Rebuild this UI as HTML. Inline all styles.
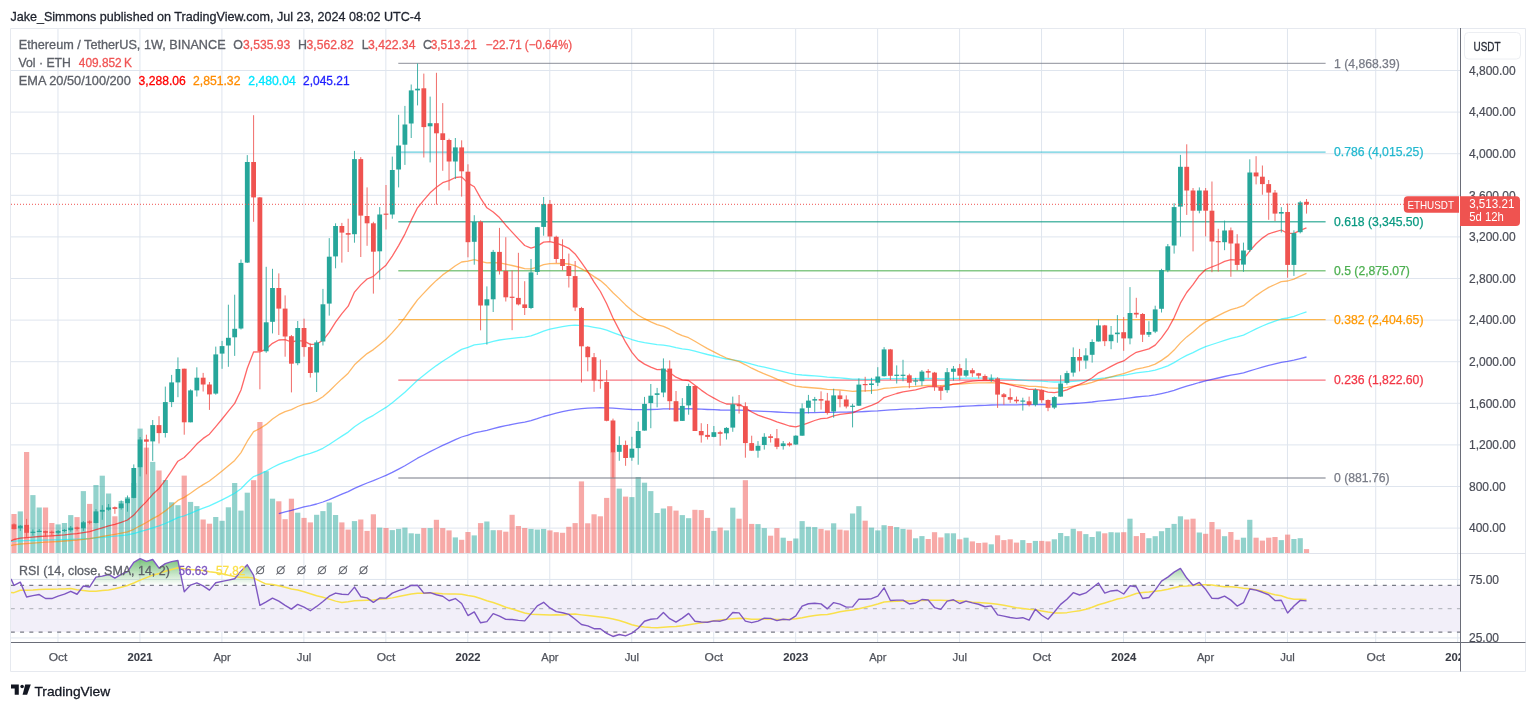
<!DOCTYPE html>
<html><head><meta charset="utf-8"><style>
html,body{margin:0;padding:0;background:#fff;width:1536px;height:709px;overflow:hidden;position:relative;font-family:"Liberation Sans", sans-serif;}
.t{position:absolute;white-space:nowrap;line-height:1;}
</style></head><body>
<svg width="1536" height="709" viewBox="0 0 1536 709" style="position:absolute;left:0;top:0;will-change:transform"><defs><clipPath id="main"><rect x="11" y="29" width="1449" height="524"/></clipPath><clipPath id="rsi"><rect x="11" y="554" width="1449" height="88"/></clipPath><clipPath id="tax"><rect x="11" y="643" width="1449" height="28"/></clipPath><linearGradient id="ob" x1="0" y1="0" x2="0" y2="1" gradientUnits="userSpaceOnUse" x1="0" y1="560" x2="0" y2="585.3"><stop offset="0" stop-color="#4caf50" stop-opacity="0.55"/><stop offset="1" stop-color="#4caf50" stop-opacity="0.0"/></linearGradient></defs><path d="M11 70.50H1460M11 112.10H1460M11 153.70H1460M11 195.30H1460M11 236.90H1460M11 278.50H1460M11 320.10H1460M11 361.70H1460M11 403.30H1460M11 444.90H1460M11 486.50H1460M11 528.10H1460M57.98 29V553M57.98 554V642M139.95 29V553M139.95 554V642M221.91 29V553M221.91 554V642M303.88 29V553M303.88 554V642M385.85 29V553M385.85 554V642M467.81 29V553M467.81 554V642M549.77 29V553M549.77 554V642M631.74 29V553M631.74 554V642M713.71 29V553M713.71 554V642M795.67 29V553M795.67 554V642M877.63 29V553M877.63 554V642M959.60 29V553M959.60 554V642M1041.56 29V553M1041.56 554V642M1123.53 29V553M1123.53 554V642M1205.49 29V553M1205.49 554V642M1287.46 29V553M1287.46 554V642M1375.73 29V553M1375.73 554V642M1457.69 29V553M1457.69 554V642M11 579.45H1460M11 637.95H1460" stroke="#dfe5ee" stroke-width="1" fill="none"/><rect x="11" y="585.3" width="1449" height="46.8" fill="#f2eff9"/><path d="M11 585.3H1460" stroke="#787b86" stroke-width="1.3" stroke-dasharray="4 5.27" stroke-dashoffset="0.2" fill="none"/><path d="M11 608.7H1460" stroke="#b8bac2" stroke-width="1.3" stroke-dasharray="4 5.27" stroke-dashoffset="0.2" fill="none"/><path d="M11 632.1H1460" stroke="#787b86" stroke-width="1.3" stroke-dasharray="4 5.27" stroke-dashoffset="0.2" fill="none"/><g clip-path="url(#main)"><rect x="11.40" y="514.0" width="5.2" height="39.0" fill="#ef5350" fill-opacity="0.5"/><rect x="17.70" y="511.4" width="5.2" height="41.6" fill="#26a69a" fill-opacity="0.5"/><rect x="24.01" y="452.0" width="5.2" height="101.0" fill="#ef5350" fill-opacity="0.5"/><rect x="30.31" y="495.1" width="5.2" height="57.9" fill="#26a69a" fill-opacity="0.5"/><rect x="36.62" y="507.5" width="5.2" height="45.5" fill="#26a69a" fill-opacity="0.5"/><rect x="42.92" y="507.5" width="5.2" height="45.5" fill="#ef5350" fill-opacity="0.5"/><rect x="49.23" y="523.0" width="5.2" height="30.0" fill="#ef5350" fill-opacity="0.5"/><rect x="55.53" y="524.4" width="5.2" height="28.6" fill="#26a69a" fill-opacity="0.5"/><rect x="61.84" y="523.0" width="5.2" height="30.0" fill="#26a69a" fill-opacity="0.5"/><rect x="68.15" y="515.1" width="5.2" height="37.9" fill="#26a69a" fill-opacity="0.5"/><rect x="74.45" y="517.1" width="5.2" height="35.9" fill="#ef5350" fill-opacity="0.5"/><rect x="80.75" y="491.1" width="5.2" height="61.9" fill="#26a69a" fill-opacity="0.5"/><rect x="87.06" y="503.9" width="5.2" height="49.1" fill="#ef5350" fill-opacity="0.5"/><rect x="93.37" y="485.0" width="5.2" height="68.0" fill="#26a69a" fill-opacity="0.5"/><rect x="99.67" y="475.7" width="5.2" height="77.3" fill="#26a69a" fill-opacity="0.5"/><rect x="105.97" y="493.5" width="5.2" height="59.5" fill="#26a69a" fill-opacity="0.5"/><rect x="112.28" y="516.3" width="5.2" height="36.7" fill="#ef5350" fill-opacity="0.5"/><rect x="118.59" y="501.0" width="5.2" height="52.0" fill="#26a69a" fill-opacity="0.5"/><rect x="124.89" y="497.2" width="5.2" height="55.8" fill="#26a69a" fill-opacity="0.5"/><rect x="131.19" y="483.0" width="5.2" height="70.0" fill="#26a69a" fill-opacity="0.5"/><rect x="137.50" y="428.6" width="5.2" height="124.4" fill="#26a69a" fill-opacity="0.5"/><rect x="143.81" y="447.6" width="5.2" height="105.4" fill="#ef5350" fill-opacity="0.5"/><rect x="150.11" y="461.9" width="5.2" height="91.1" fill="#26a69a" fill-opacity="0.5"/><rect x="156.41" y="470.5" width="5.2" height="82.5" fill="#ef5350" fill-opacity="0.5"/><rect x="162.72" y="480.0" width="5.2" height="73.0" fill="#26a69a" fill-opacity="0.5"/><rect x="169.03" y="502.3" width="5.2" height="50.7" fill="#26a69a" fill-opacity="0.5"/><rect x="175.33" y="505.2" width="5.2" height="47.8" fill="#26a69a" fill-opacity="0.5"/><rect x="181.63" y="475.6" width="5.2" height="77.4" fill="#ef5350" fill-opacity="0.5"/><rect x="187.94" y="501.9" width="5.2" height="51.1" fill="#26a69a" fill-opacity="0.5"/><rect x="194.25" y="506.1" width="5.2" height="46.9" fill="#26a69a" fill-opacity="0.5"/><rect x="200.55" y="519.5" width="5.2" height="33.5" fill="#ef5350" fill-opacity="0.5"/><rect x="206.85" y="523.7" width="5.2" height="29.3" fill="#ef5350" fill-opacity="0.5"/><rect x="213.16" y="517.0" width="5.2" height="36.0" fill="#26a69a" fill-opacity="0.5"/><rect x="219.47" y="520.8" width="5.2" height="32.2" fill="#26a69a" fill-opacity="0.5"/><rect x="225.77" y="507.3" width="5.2" height="45.7" fill="#26a69a" fill-opacity="0.5"/><rect x="232.07" y="483.0" width="5.2" height="70.0" fill="#26a69a" fill-opacity="0.5"/><rect x="238.38" y="510.6" width="5.2" height="42.4" fill="#26a69a" fill-opacity="0.5"/><rect x="244.69" y="492.7" width="5.2" height="60.3" fill="#26a69a" fill-opacity="0.5"/><rect x="250.99" y="480.2" width="5.2" height="72.8" fill="#ef5350" fill-opacity="0.5"/><rect x="257.29" y="422.0" width="5.2" height="131.0" fill="#ef5350" fill-opacity="0.5"/><rect x="263.60" y="471.2" width="5.2" height="81.8" fill="#26a69a" fill-opacity="0.5"/><rect x="269.90" y="498.7" width="5.2" height="54.3" fill="#26a69a" fill-opacity="0.5"/><rect x="276.21" y="501.3" width="5.2" height="51.7" fill="#ef5350" fill-opacity="0.5"/><rect x="282.51" y="519.2" width="5.2" height="33.8" fill="#ef5350" fill-opacity="0.5"/><rect x="288.82" y="498.7" width="5.2" height="54.3" fill="#ef5350" fill-opacity="0.5"/><rect x="295.12" y="512.7" width="5.2" height="40.3" fill="#26a69a" fill-opacity="0.5"/><rect x="301.43" y="517.9" width="5.2" height="35.1" fill="#ef5350" fill-opacity="0.5"/><rect x="307.73" y="522.4" width="5.2" height="30.6" fill="#ef5350" fill-opacity="0.5"/><rect x="314.04" y="514.8" width="5.2" height="38.2" fill="#26a69a" fill-opacity="0.5"/><rect x="320.34" y="511.1" width="5.2" height="41.9" fill="#26a69a" fill-opacity="0.5"/><rect x="326.65" y="502.5" width="5.2" height="50.5" fill="#26a69a" fill-opacity="0.5"/><rect x="332.95" y="515.0" width="5.2" height="38.0" fill="#26a69a" fill-opacity="0.5"/><rect x="339.26" y="522.4" width="5.2" height="30.6" fill="#ef5350" fill-opacity="0.5"/><rect x="345.56" y="529.6" width="5.2" height="23.4" fill="#ef5350" fill-opacity="0.5"/><rect x="351.87" y="521.1" width="5.2" height="31.9" fill="#26a69a" fill-opacity="0.5"/><rect x="358.17" y="519.5" width="5.2" height="33.5" fill="#ef5350" fill-opacity="0.5"/><rect x="364.48" y="530.9" width="5.2" height="22.1" fill="#ef5350" fill-opacity="0.5"/><rect x="370.78" y="514.3" width="5.2" height="38.7" fill="#ef5350" fill-opacity="0.5"/><rect x="377.09" y="527.6" width="5.2" height="25.4" fill="#26a69a" fill-opacity="0.5"/><rect x="383.39" y="528.0" width="5.2" height="25.0" fill="#ef5350" fill-opacity="0.5"/><rect x="389.70" y="530.1" width="5.2" height="22.9" fill="#26a69a" fill-opacity="0.5"/><rect x="396.00" y="528.9" width="5.2" height="24.1" fill="#26a69a" fill-opacity="0.5"/><rect x="402.31" y="527.6" width="5.2" height="25.4" fill="#26a69a" fill-opacity="0.5"/><rect x="408.61" y="533.3" width="5.2" height="19.7" fill="#26a69a" fill-opacity="0.5"/><rect x="414.92" y="533.8" width="5.2" height="19.2" fill="#26a69a" fill-opacity="0.5"/><rect x="421.22" y="528.1" width="5.2" height="24.9" fill="#ef5350" fill-opacity="0.5"/><rect x="427.53" y="528.1" width="5.2" height="24.9" fill="#26a69a" fill-opacity="0.5"/><rect x="433.83" y="519.8" width="5.2" height="33.2" fill="#ef5350" fill-opacity="0.5"/><rect x="440.14" y="528.1" width="5.2" height="24.9" fill="#ef5350" fill-opacity="0.5"/><rect x="446.44" y="530.4" width="5.2" height="22.6" fill="#ef5350" fill-opacity="0.5"/><rect x="452.75" y="537.4" width="5.2" height="15.6" fill="#26a69a" fill-opacity="0.5"/><rect x="459.05" y="539.8" width="5.2" height="13.2" fill="#ef5350" fill-opacity="0.5"/><rect x="465.36" y="532.0" width="5.2" height="21.0" fill="#ef5350" fill-opacity="0.5"/><rect x="471.66" y="535.4" width="5.2" height="17.6" fill="#26a69a" fill-opacity="0.5"/><rect x="477.97" y="523.1" width="5.2" height="29.9" fill="#ef5350" fill-opacity="0.5"/><rect x="484.27" y="521.5" width="5.2" height="31.5" fill="#26a69a" fill-opacity="0.5"/><rect x="490.58" y="530.2" width="5.2" height="22.8" fill="#26a69a" fill-opacity="0.5"/><rect x="496.88" y="530.2" width="5.2" height="22.8" fill="#ef5350" fill-opacity="0.5"/><rect x="503.19" y="531.7" width="5.2" height="21.3" fill="#ef5350" fill-opacity="0.5"/><rect x="509.50" y="514.8" width="5.2" height="38.2" fill="#ef5350" fill-opacity="0.5"/><rect x="515.80" y="526.0" width="5.2" height="27.0" fill="#ef5350" fill-opacity="0.5"/><rect x="522.10" y="528.0" width="5.2" height="25.0" fill="#ef5350" fill-opacity="0.5"/><rect x="528.41" y="528.9" width="5.2" height="24.1" fill="#26a69a" fill-opacity="0.5"/><rect x="534.71" y="529.6" width="5.2" height="23.4" fill="#26a69a" fill-opacity="0.5"/><rect x="541.02" y="528.9" width="5.2" height="24.1" fill="#26a69a" fill-opacity="0.5"/><rect x="547.32" y="530.4" width="5.2" height="22.6" fill="#ef5350" fill-opacity="0.5"/><rect x="553.63" y="532.2" width="5.2" height="20.8" fill="#ef5350" fill-opacity="0.5"/><rect x="559.93" y="532.8" width="5.2" height="20.2" fill="#ef5350" fill-opacity="0.5"/><rect x="566.24" y="526.8" width="5.2" height="26.2" fill="#ef5350" fill-opacity="0.5"/><rect x="572.54" y="523.1" width="5.2" height="29.9" fill="#ef5350" fill-opacity="0.5"/><rect x="578.85" y="481.4" width="5.2" height="71.6" fill="#ef5350" fill-opacity="0.5"/><rect x="585.15" y="523.3" width="5.2" height="29.7" fill="#ef5350" fill-opacity="0.5"/><rect x="591.46" y="514.3" width="5.2" height="38.7" fill="#ef5350" fill-opacity="0.5"/><rect x="597.76" y="516.3" width="5.2" height="36.7" fill="#ef5350" fill-opacity="0.5"/><rect x="604.07" y="497.9" width="5.2" height="55.1" fill="#ef5350" fill-opacity="0.5"/><rect x="610.38" y="452.0" width="5.2" height="101.0" fill="#ef5350" fill-opacity="0.5"/><rect x="616.68" y="488.6" width="5.2" height="64.4" fill="#26a69a" fill-opacity="0.5"/><rect x="622.98" y="496.6" width="5.2" height="56.4" fill="#ef5350" fill-opacity="0.5"/><rect x="629.29" y="497.1" width="5.2" height="55.9" fill="#26a69a" fill-opacity="0.5"/><rect x="635.59" y="477.0" width="5.2" height="76.0" fill="#26a69a" fill-opacity="0.5"/><rect x="641.90" y="482.7" width="5.2" height="70.3" fill="#26a69a" fill-opacity="0.5"/><rect x="648.20" y="491.1" width="5.2" height="61.9" fill="#26a69a" fill-opacity="0.5"/><rect x="654.51" y="513.0" width="5.2" height="40.0" fill="#26a69a" fill-opacity="0.5"/><rect x="660.81" y="508.5" width="5.2" height="44.5" fill="#26a69a" fill-opacity="0.5"/><rect x="667.12" y="506.2" width="5.2" height="46.8" fill="#ef5350" fill-opacity="0.5"/><rect x="673.42" y="510.6" width="5.2" height="42.4" fill="#ef5350" fill-opacity="0.5"/><rect x="679.73" y="515.1" width="5.2" height="37.9" fill="#26a69a" fill-opacity="0.5"/><rect x="686.03" y="518.2" width="5.2" height="34.8" fill="#26a69a" fill-opacity="0.5"/><rect x="692.34" y="509.8" width="5.2" height="43.2" fill="#ef5350" fill-opacity="0.5"/><rect x="698.64" y="510.1" width="5.2" height="42.9" fill="#ef5350" fill-opacity="0.5"/><rect x="704.95" y="517.9" width="5.2" height="35.1" fill="#ef5350" fill-opacity="0.5"/><rect x="711.25" y="530.9" width="5.2" height="22.1" fill="#26a69a" fill-opacity="0.5"/><rect x="717.56" y="527.6" width="5.2" height="25.4" fill="#ef5350" fill-opacity="0.5"/><rect x="723.86" y="530.4" width="5.2" height="22.6" fill="#26a69a" fill-opacity="0.5"/><rect x="730.17" y="507.7" width="5.2" height="45.3" fill="#26a69a" fill-opacity="0.5"/><rect x="736.47" y="518.7" width="5.2" height="34.3" fill="#ef5350" fill-opacity="0.5"/><rect x="742.78" y="480.2" width="5.2" height="72.8" fill="#ef5350" fill-opacity="0.5"/><rect x="749.08" y="523.9" width="5.2" height="29.1" fill="#ef5350" fill-opacity="0.5"/><rect x="755.39" y="524.1" width="5.2" height="28.9" fill="#26a69a" fill-opacity="0.5"/><rect x="761.69" y="528.1" width="5.2" height="24.9" fill="#26a69a" fill-opacity="0.5"/><rect x="768.00" y="535.7" width="5.2" height="17.3" fill="#ef5350" fill-opacity="0.5"/><rect x="774.30" y="528.1" width="5.2" height="24.9" fill="#ef5350" fill-opacity="0.5"/><rect x="780.61" y="537.7" width="5.2" height="15.3" fill="#26a69a" fill-opacity="0.5"/><rect x="786.91" y="540.9" width="5.2" height="12.1" fill="#ef5350" fill-opacity="0.5"/><rect x="793.22" y="538.5" width="5.2" height="14.5" fill="#26a69a" fill-opacity="0.5"/><rect x="799.52" y="521.1" width="5.2" height="31.9" fill="#26a69a" fill-opacity="0.5"/><rect x="805.83" y="526.8" width="5.2" height="26.2" fill="#26a69a" fill-opacity="0.5"/><rect x="812.13" y="527.1" width="5.2" height="25.9" fill="#26a69a" fill-opacity="0.5"/><rect x="818.44" y="528.9" width="5.2" height="24.1" fill="#ef5350" fill-opacity="0.5"/><rect x="824.74" y="530.4" width="5.2" height="22.6" fill="#ef5350" fill-opacity="0.5"/><rect x="831.05" y="523.3" width="5.2" height="29.7" fill="#26a69a" fill-opacity="0.5"/><rect x="837.35" y="529.6" width="5.2" height="23.4" fill="#ef5350" fill-opacity="0.5"/><rect x="843.66" y="530.4" width="5.2" height="22.6" fill="#ef5350" fill-opacity="0.5"/><rect x="849.96" y="513.5" width="5.2" height="39.5" fill="#26a69a" fill-opacity="0.5"/><rect x="856.27" y="506.2" width="5.2" height="46.8" fill="#26a69a" fill-opacity="0.5"/><rect x="862.57" y="520.7" width="5.2" height="32.3" fill="#ef5350" fill-opacity="0.5"/><rect x="868.88" y="527.6" width="5.2" height="25.4" fill="#26a69a" fill-opacity="0.5"/><rect x="875.18" y="530.4" width="5.2" height="22.6" fill="#26a69a" fill-opacity="0.5"/><rect x="881.49" y="525.2" width="5.2" height="27.8" fill="#26a69a" fill-opacity="0.5"/><rect x="887.79" y="526.0" width="5.2" height="27.0" fill="#ef5350" fill-opacity="0.5"/><rect x="894.10" y="527.1" width="5.2" height="25.9" fill="#26a69a" fill-opacity="0.5"/><rect x="900.40" y="528.9" width="5.2" height="24.1" fill="#26a69a" fill-opacity="0.5"/><rect x="906.71" y="529.6" width="5.2" height="23.4" fill="#ef5350" fill-opacity="0.5"/><rect x="913.01" y="538.3" width="5.2" height="14.7" fill="#26a69a" fill-opacity="0.5"/><rect x="919.32" y="536.1" width="5.2" height="16.9" fill="#26a69a" fill-opacity="0.5"/><rect x="925.62" y="539.0" width="5.2" height="14.0" fill="#ef5350" fill-opacity="0.5"/><rect x="931.93" y="532.2" width="5.2" height="20.8" fill="#ef5350" fill-opacity="0.5"/><rect x="938.23" y="537.4" width="5.2" height="15.6" fill="#ef5350" fill-opacity="0.5"/><rect x="944.54" y="533.3" width="5.2" height="19.7" fill="#26a69a" fill-opacity="0.5"/><rect x="950.84" y="533.3" width="5.2" height="19.7" fill="#26a69a" fill-opacity="0.5"/><rect x="957.15" y="539.3" width="5.2" height="13.7" fill="#ef5350" fill-opacity="0.5"/><rect x="963.45" y="537.7" width="5.2" height="15.3" fill="#26a69a" fill-opacity="0.5"/><rect x="969.76" y="541.4" width="5.2" height="11.6" fill="#ef5350" fill-opacity="0.5"/><rect x="976.06" y="543.0" width="5.2" height="10.0" fill="#ef5350" fill-opacity="0.5"/><rect x="982.37" y="542.6" width="5.2" height="10.4" fill="#ef5350" fill-opacity="0.5"/><rect x="988.67" y="544.3" width="5.2" height="8.7" fill="#26a69a" fill-opacity="0.5"/><rect x="994.98" y="535.3" width="5.2" height="17.7" fill="#ef5350" fill-opacity="0.5"/><rect x="1001.28" y="540.1" width="5.2" height="12.9" fill="#ef5350" fill-opacity="0.5"/><rect x="1007.59" y="539.3" width="5.2" height="13.7" fill="#ef5350" fill-opacity="0.5"/><rect x="1013.89" y="542.6" width="5.2" height="10.4" fill="#ef5350" fill-opacity="0.5"/><rect x="1020.20" y="540.1" width="5.2" height="12.9" fill="#26a69a" fill-opacity="0.5"/><rect x="1026.51" y="543.0" width="5.2" height="10.0" fill="#ef5350" fill-opacity="0.5"/><rect x="1032.81" y="540.9" width="5.2" height="12.1" fill="#26a69a" fill-opacity="0.5"/><rect x="1039.12" y="540.9" width="5.2" height="12.1" fill="#ef5350" fill-opacity="0.5"/><rect x="1045.42" y="541.4" width="5.2" height="11.6" fill="#ef5350" fill-opacity="0.5"/><rect x="1051.73" y="539.3" width="5.2" height="13.7" fill="#26a69a" fill-opacity="0.5"/><rect x="1058.03" y="533.0" width="5.2" height="20.0" fill="#26a69a" fill-opacity="0.5"/><rect x="1064.34" y="536.1" width="5.2" height="16.9" fill="#26a69a" fill-opacity="0.5"/><rect x="1070.64" y="528.8" width="5.2" height="24.2" fill="#26a69a" fill-opacity="0.5"/><rect x="1076.94" y="531.2" width="5.2" height="21.8" fill="#ef5350" fill-opacity="0.5"/><rect x="1083.25" y="534.1" width="5.2" height="18.9" fill="#26a69a" fill-opacity="0.5"/><rect x="1089.56" y="537.0" width="5.2" height="16.0" fill="#26a69a" fill-opacity="0.5"/><rect x="1095.86" y="531.4" width="5.2" height="21.6" fill="#26a69a" fill-opacity="0.5"/><rect x="1102.16" y="533.3" width="5.2" height="19.7" fill="#ef5350" fill-opacity="0.5"/><rect x="1108.47" y="532.2" width="5.2" height="20.8" fill="#26a69a" fill-opacity="0.5"/><rect x="1114.78" y="532.5" width="5.2" height="20.5" fill="#26a69a" fill-opacity="0.5"/><rect x="1121.08" y="532.2" width="5.2" height="20.8" fill="#ef5350" fill-opacity="0.5"/><rect x="1127.38" y="518.7" width="5.2" height="34.3" fill="#26a69a" fill-opacity="0.5"/><rect x="1133.69" y="536.1" width="5.2" height="16.9" fill="#ef5350" fill-opacity="0.5"/><rect x="1140.00" y="533.0" width="5.2" height="20.0" fill="#ef5350" fill-opacity="0.5"/><rect x="1146.30" y="538.2" width="5.2" height="14.8" fill="#26a69a" fill-opacity="0.5"/><rect x="1152.61" y="536.2" width="5.2" height="16.8" fill="#26a69a" fill-opacity="0.5"/><rect x="1158.91" y="531.2" width="5.2" height="21.8" fill="#26a69a" fill-opacity="0.5"/><rect x="1165.22" y="528.0" width="5.2" height="25.0" fill="#26a69a" fill-opacity="0.5"/><rect x="1171.52" y="523.9" width="5.2" height="29.1" fill="#26a69a" fill-opacity="0.5"/><rect x="1177.83" y="516.3" width="5.2" height="36.7" fill="#26a69a" fill-opacity="0.5"/><rect x="1184.13" y="519.5" width="5.2" height="33.5" fill="#ef5350" fill-opacity="0.5"/><rect x="1190.43" y="518.7" width="5.2" height="34.3" fill="#ef5350" fill-opacity="0.5"/><rect x="1196.74" y="532.5" width="5.2" height="20.5" fill="#26a69a" fill-opacity="0.5"/><rect x="1203.05" y="533.8" width="5.2" height="19.2" fill="#ef5350" fill-opacity="0.5"/><rect x="1209.35" y="522.0" width="5.2" height="31.0" fill="#ef5350" fill-opacity="0.5"/><rect x="1215.65" y="529.3" width="5.2" height="23.7" fill="#ef5350" fill-opacity="0.5"/><rect x="1221.96" y="536.2" width="5.2" height="16.8" fill="#26a69a" fill-opacity="0.5"/><rect x="1228.27" y="532.0" width="5.2" height="21.0" fill="#ef5350" fill-opacity="0.5"/><rect x="1234.57" y="539.8" width="5.2" height="13.2" fill="#ef5350" fill-opacity="0.5"/><rect x="1240.88" y="537.7" width="5.2" height="15.3" fill="#26a69a" fill-opacity="0.5"/><rect x="1247.18" y="519.8" width="5.2" height="33.2" fill="#26a69a" fill-opacity="0.5"/><rect x="1253.49" y="537.7" width="5.2" height="15.3" fill="#ef5350" fill-opacity="0.5"/><rect x="1259.79" y="540.6" width="5.2" height="12.4" fill="#ef5350" fill-opacity="0.5"/><rect x="1266.10" y="537.7" width="5.2" height="15.3" fill="#ef5350" fill-opacity="0.5"/><rect x="1272.40" y="537.0" width="5.2" height="16.0" fill="#ef5350" fill-opacity="0.5"/><rect x="1278.70" y="540.1" width="5.2" height="12.9" fill="#26a69a" fill-opacity="0.5"/><rect x="1285.01" y="534.6" width="5.2" height="18.4" fill="#ef5350" fill-opacity="0.5"/><rect x="1291.32" y="539.0" width="5.2" height="14.0" fill="#26a69a" fill-opacity="0.5"/><rect x="1297.62" y="538.2" width="5.2" height="14.8" fill="#26a69a" fill-opacity="0.5"/><rect x="1303.92" y="549.1" width="5.2" height="3.9" fill="#ef5350" fill-opacity="0.5"/></g><path d="M398.3 63.39H1325.6" stroke="#787b86" stroke-width="1.4" stroke-opacity="0.68" fill="none"/><text x="1334" y="67.7" fill="#787b86" stroke="#787b86" stroke-width="0.25" font-size="12.2" font-family='"Liberation Sans", sans-serif'>1 (4,868.39)</text><path d="M398.3 152.11H1325.6" stroke="#22b8cf" stroke-width="1.4" stroke-opacity="0.68" fill="none"/><text x="1334" y="156.4" fill="#22b8cf" stroke="#22b8cf" stroke-width="0.25" font-size="12.2" font-family='"Liberation Sans", sans-serif'>0.786 (4,015.25)</text><path d="M398.3 221.77H1325.6" stroke="#089981" stroke-width="1.4" stroke-opacity="0.68" fill="none"/><text x="1334" y="226.1" fill="#089981" stroke="#089981" stroke-width="0.25" font-size="12.2" font-family='"Liberation Sans", sans-serif'>0.618 (3,345.50)</text><path d="M398.3 270.69H1325.6" stroke="#4caf50" stroke-width="1.4" stroke-opacity="0.68" fill="none"/><text x="1334" y="275.0" fill="#4caf50" stroke="#4caf50" stroke-width="0.25" font-size="12.2" font-family='"Liberation Sans", sans-serif'>0.5 (2,875.07)</text><path d="M398.3 319.62H1325.6" stroke="#ff9800" stroke-width="1.4" stroke-opacity="0.68" fill="none"/><text x="1334" y="323.9" fill="#ff9800" stroke="#ff9800" stroke-width="0.25" font-size="12.2" font-family='"Liberation Sans", sans-serif'>0.382 (2,404.65)</text><path d="M398.3 380.15H1325.6" stroke="#f23645" stroke-width="1.4" stroke-opacity="0.68" fill="none"/><text x="1334" y="384.4" fill="#f23645" stroke="#f23645" stroke-width="0.25" font-size="12.2" font-family='"Liberation Sans", sans-serif'>0.236 (1,822.60)</text><path d="M398.3 478.00H1325.6" stroke="#787b86" stroke-width="1.4" stroke-opacity="0.68" fill="none"/><text x="1334" y="482.3" fill="#787b86" stroke="#787b86" stroke-width="0.25" font-size="12.2" font-family='"Liberation Sans", sans-serif'>0 (881.76)</text><path d="M278.8 513.6 L285.1 511.8 L291.4 510.4 L297.7 508.6 L304.0 506.9 L310.3 505.6 L316.6 504.0 L322.9 502.0 L329.2 499.6 L335.6 496.8 L341.9 494.2 L348.2 491.6 L354.5 488.3 L360.8 485.6 L367.1 483.0 L373.4 480.7 L379.7 478.0 L386.0 475.4 L392.3 472.4 L398.6 469.1 L404.9 465.7 L411.2 462.0 L417.5 458.2 L423.8 455.0 L430.1 451.7 L436.4 448.5 L442.7 445.4 L449.0 442.6 L455.4 439.7 L461.6 437.0 L468.0 435.1 L474.3 432.9 L480.6 431.7 L486.9 430.3 L493.2 428.6 L499.5 427.0 L505.8 425.7 L512.1 424.4 L518.4 423.2 L524.7 422.1 L531.0 420.6 L537.3 418.7 L543.6 416.5 L549.9 414.8 L556.2 413.2 L562.5 411.7 L568.8 410.4 L575.1 409.4 L581.5 408.7 L587.8 408.2 L594.1 407.9 L600.4 407.7 L606.7 407.8 L613.0 408.2 L619.3 408.6 L625.6 409.1 L631.9 409.5 L638.2 409.7 L644.5 409.7 L650.8 409.5 L657.1 409.4 L663.4 408.9 L669.7 408.9 L676.0 409.0 L682.3 409.0 L688.6 408.7 L694.9 409.0 L701.2 409.2 L707.5 409.5 L713.9 409.7 L720.2 410.0 L726.5 410.1 L732.8 410.1 L739.1 410.1 L745.4 410.4 L751.7 410.8 L758.0 411.1 L764.3 411.4 L770.6 411.6 L776.9 412.0 L783.2 412.3 L789.5 412.6 L795.8 412.9 L802.1 412.8 L808.4 412.7 L814.7 412.6 L821.0 412.4 L827.3 412.4 L833.6 412.3 L840.0 412.1 L846.3 412.1 L852.6 412.0 L858.9 411.8 L865.2 411.5 L871.5 411.2 L877.8 410.9 L884.1 410.3 L890.4 409.9 L896.7 409.6 L903.0 409.2 L909.3 408.9 L915.6 408.7 L921.9 408.3 L928.2 407.9 L934.5 407.7 L940.8 407.6 L947.1 407.2 L953.4 406.8 L959.8 406.5 L966.0 406.2 L972.4 405.8 L978.7 405.5 L985.0 405.3 L991.3 405.0 L997.6 404.9 L1003.9 404.8 L1010.2 404.8 L1016.5 404.8 L1022.8 404.7 L1029.1 404.7 L1035.4 404.6 L1041.7 404.5 L1048.0 404.6 L1054.3 404.5 L1060.6 404.3 L1066.9 403.9 L1073.2 403.5 L1079.5 403.1 L1085.8 402.6 L1092.2 402.0 L1098.5 401.2 L1104.8 400.6 L1111.1 400.0 L1117.4 399.3 L1123.7 398.7 L1130.0 397.8 L1136.3 397.0 L1142.6 396.4 L1148.9 395.8 L1155.2 394.9 L1161.5 393.6 L1167.8 392.2 L1174.1 390.3 L1180.4 388.1 L1186.7 386.1 L1193.0 384.4 L1199.3 382.5 L1205.6 380.8 L1212.0 379.4 L1218.2 378.0 L1224.6 376.5 L1230.9 375.2 L1237.2 374.1 L1243.5 372.9 L1249.8 370.9 L1256.1 369.0 L1262.4 367.1 L1268.7 365.4 L1275.0 363.9 L1281.3 362.4 L1287.6 361.4 L1293.9 360.1 L1300.2 358.6 L1306.5 357.0" stroke="#2020ff" stroke-opacity="0.6" stroke-width="1.3" stroke-linejoin="round" fill="none" clip-path="url(#main)"/><path d="M11.0 541.4 L14.0 541.1 L20.3 540.8 L26.6 540.6 L32.9 540.4 L39.2 540.2 L45.5 540.1 L51.8 539.9 L58.1 539.8 L64.4 539.6 L70.8 539.3 L77.0 539.1 L83.3 538.8 L89.7 538.5 L96.0 537.9 L102.3 537.4 L108.6 536.8 L114.9 536.2 L121.2 535.6 L127.5 534.9 L133.8 533.5 L140.1 531.7 L146.4 529.9 L152.7 527.8 L159.0 525.9 L165.3 523.5 L171.6 520.7 L177.9 517.7 L184.2 515.8 L190.5 513.3 L196.8 510.6 L203.2 508.1 L209.4 505.9 L215.8 502.9 L222.1 499.8 L228.4 496.6 L234.7 493.2 L241.0 488.7 L247.3 482.2 L253.6 476.6 L259.9 474.1 L266.2 471.1 L272.5 467.5 L278.8 464.3 L285.1 461.8 L291.4 459.9 L297.7 457.2 L304.0 455.1 L310.3 453.4 L316.6 451.2 L322.9 448.3 L329.2 444.5 L335.6 440.2 L341.9 436.1 L348.2 432.1 L354.5 426.7 L360.8 422.5 L367.1 418.6 L373.4 415.3 L379.7 411.3 L386.0 407.4 L392.3 402.7 L398.6 397.6 L404.9 392.2 L411.2 386.2 L417.5 380.3 L423.8 375.3 L430.1 370.3 L436.4 365.6 L442.7 361.2 L449.0 357.2 L455.4 353.1 L461.6 349.4 L468.0 347.3 L474.3 344.9 L480.6 344.1 L486.9 343.2 L493.2 341.4 L499.5 340.0 L505.8 339.1 L512.1 338.3 L518.4 337.6 L524.7 337.1 L531.0 335.8 L537.3 333.6 L543.6 331.1 L549.9 329.2 L556.2 327.8 L562.5 326.6 L568.8 325.6 L575.1 325.2 L581.5 325.6 L587.8 326.2 L594.1 327.3 L600.4 328.4 L606.7 330.2 L613.0 332.6 L619.3 334.9 L625.6 337.3 L631.9 339.5 L638.2 341.3 L644.5 342.6 L650.8 343.6 L657.1 344.6 L663.4 345.1 L669.7 346.2 L676.0 347.7 L682.3 348.8 L688.6 349.6 L694.9 351.2 L701.2 352.8 L707.5 354.5 L713.9 356.0 L720.2 357.6 L726.5 359.0 L732.8 359.9 L739.1 360.8 L745.4 362.4 L751.7 364.2 L758.0 365.8 L764.3 367.2 L770.6 368.6 L776.9 370.1 L783.2 371.6 L789.5 373.1 L795.8 374.3 L802.1 375.0 L808.4 375.5 L814.7 375.9 L821.0 376.4 L827.3 377.1 L833.6 377.5 L840.0 377.9 L846.3 378.5 L852.6 379.1 L858.9 379.2 L865.2 379.3 L871.5 379.4 L877.8 379.3 L884.1 378.7 L890.4 378.6 L896.7 378.6 L903.0 378.5 L909.3 378.6 L915.6 378.6 L921.9 378.5 L928.2 378.4 L934.5 378.5 L940.8 378.8 L947.1 378.6 L953.4 378.4 L959.8 378.4 L966.0 378.2 L972.4 378.1 L978.7 378.1 L985.0 378.1 L991.3 378.1 L997.6 378.5 L1003.9 378.8 L1010.2 379.2 L1016.5 379.7 L1022.8 380.1 L1029.1 380.6 L1035.4 380.8 L1041.7 381.1 L1048.0 381.7 L1054.3 382.0 L1060.6 382.0 L1066.9 381.8 L1073.2 381.3 L1079.5 380.9 L1085.8 380.4 L1092.2 379.7 L1098.5 378.6 L1104.8 377.9 L1111.1 377.0 L1117.4 376.1 L1123.7 375.4 L1130.0 374.1 L1136.3 372.9 L1142.6 372.2 L1148.9 371.4 L1155.2 370.2 L1161.5 368.2 L1167.8 365.8 L1174.1 362.6 L1180.4 358.8 L1186.7 355.4 L1193.0 352.6 L1199.3 349.4 L1205.6 346.6 L1212.0 344.5 L1218.2 342.5 L1224.6 340.3 L1230.9 338.4 L1237.2 336.9 L1243.5 335.2 L1249.8 332.0 L1256.1 328.9 L1262.4 326.0 L1268.7 323.4 L1275.0 321.2 L1281.3 319.0 L1287.6 318.0 L1293.9 316.3 L1300.2 314.0 L1306.5 311.9" stroke="#00f0ff" stroke-opacity="0.6" stroke-width="1.3" stroke-linejoin="round" fill="none" clip-path="url(#main)"/><path d="M11.0 545.5 L14.0 544.8 L20.3 544.0 L26.6 543.6 L32.9 543.1 L39.2 542.6 L45.5 542.2 L51.8 541.9 L58.1 541.5 L64.4 541.0 L70.8 540.5 L77.0 540.0 L83.3 539.3 L89.7 538.7 L96.0 537.6 L102.3 536.5 L108.6 535.4 L114.9 534.3 L121.2 533.1 L127.5 531.8 L133.8 529.3 L140.1 525.8 L146.4 522.5 L152.7 518.6 L159.0 515.3 L165.3 510.9 L171.6 505.8 L177.9 500.4 L184.2 497.4 L190.5 493.2 L196.8 488.7 L203.2 484.6 L209.4 481.0 L215.8 476.1 L222.1 471.0 L228.4 465.8 L234.7 460.4 L241.0 452.6 L247.3 441.2 L253.6 431.7 L259.9 428.5 L266.2 424.4 L272.5 419.0 L278.8 414.7 L285.1 411.6 L291.4 409.7 L297.7 406.5 L304.0 404.2 L310.3 403.0 L316.6 400.6 L322.9 396.8 L329.2 391.3 L335.6 384.9 L341.9 378.9 L348.2 373.2 L354.5 364.8 L360.8 359.0 L367.1 353.6 L373.4 349.6 L379.7 344.4 L386.0 339.3 L392.3 332.6 L398.6 325.3 L404.9 317.4 L411.2 308.5 L417.5 299.9 L423.8 293.1 L430.1 286.5 L436.4 280.4 L442.7 274.9 L449.0 270.5 L455.4 265.7 L461.6 262.0 L468.0 261.2 L474.3 259.7 L480.6 261.4 L486.9 262.9 L493.2 262.5 L499.5 262.8 L505.8 264.2 L512.1 265.5 L518.4 267.0 L524.7 268.6 L531.0 268.8 L537.3 267.1 L543.6 264.7 L549.9 263.6 L556.2 263.4 L562.5 263.5 L568.8 264.0 L575.1 265.7 L581.5 268.9 L587.8 272.3 L594.1 276.6 L600.4 280.6 L606.7 286.1 L613.0 292.7 L619.3 298.6 L625.6 304.9 L631.9 310.5 L638.2 315.2 L644.5 318.7 L650.8 321.8 L657.1 324.6 L663.4 326.3 L669.7 329.2 L676.0 332.8 L682.3 335.7 L688.6 337.7 L694.9 341.3 L701.2 345.0 L707.5 348.6 L713.9 351.9 L720.2 355.1 L726.5 358.0 L732.8 359.8 L739.1 361.6 L745.4 364.8 L751.7 368.2 L758.0 371.2 L764.3 373.8 L770.6 376.3 L776.9 379.1 L783.2 381.6 L789.5 384.1 L795.8 386.1 L802.1 387.0 L808.4 387.5 L814.7 388.0 L821.0 388.5 L827.3 389.4 L833.6 389.7 L840.0 390.0 L846.3 390.7 L852.6 391.3 L858.9 391.0 L865.2 390.8 L871.5 390.5 L877.8 389.9 L884.1 388.3 L890.4 387.9 L896.7 387.3 L903.0 386.8 L909.3 386.7 L915.6 386.4 L921.9 385.9 L928.2 385.3 L934.5 385.4 L940.8 385.6 L947.1 385.1 L953.4 384.4 L959.8 384.1 L966.0 383.6 L972.4 383.1 L978.7 382.9 L985.0 382.8 L991.3 382.6 L997.6 383.1 L1003.9 383.6 L1010.2 384.2 L1016.5 384.9 L1022.8 385.5 L1029.1 386.3 L1035.4 386.4 L1041.7 387.0 L1048.0 387.8 L1054.3 388.1 L1060.6 388.0 L1066.9 387.4 L1073.2 386.2 L1079.5 385.2 L1085.8 384.0 L1092.2 382.4 L1098.5 380.1 L1104.8 378.6 L1111.1 376.9 L1117.4 375.1 L1123.7 373.7 L1130.0 371.3 L1136.3 369.1 L1142.6 367.8 L1148.9 366.3 L1155.2 364.1 L1161.5 360.4 L1167.8 355.9 L1174.1 350.1 L1180.4 342.9 L1186.7 336.9 L1193.0 332.0 L1199.3 326.4 L1205.6 321.9 L1212.0 318.8 L1218.2 315.7 L1224.6 312.4 L1230.9 309.7 L1237.2 307.9 L1243.5 305.7 L1249.8 300.5 L1256.1 295.6 L1262.4 291.2 L1268.7 287.4 L1275.0 284.5 L1281.3 281.6 L1287.6 281.0 L1293.9 279.1 L1300.2 276.1 L1306.5 273.3" stroke="#ff8a00" stroke-opacity="0.6" stroke-width="1.3" stroke-linejoin="round" fill="none" clip-path="url(#main)"/><path d="M11.0 540.8 L14.0 539.5 L20.3 538.2 L26.6 537.7 L32.9 537.1 L39.2 536.5 L45.5 536.1 L51.8 535.8 L58.1 535.4 L64.4 534.9 L70.8 534.2 L77.0 533.7 L83.3 532.6 L89.7 531.6 L96.0 529.7 L102.3 527.8 L108.6 525.9 L114.9 524.3 L121.2 522.3 L127.5 520.0 L133.8 515.1 L140.1 507.9 L146.4 501.6 L152.7 494.3 L159.0 488.5 L165.3 480.2 L171.6 470.9 L177.9 461.2 L184.2 457.5 L190.5 451.1 L196.8 444.1 L203.2 438.4 L209.4 434.2 L215.8 426.6 L222.1 419.0 L228.4 411.2 L234.7 403.4 L241.0 390.0 L247.3 368.3 L253.6 352.0 L259.9 351.9 L266.2 349.1 L272.5 343.3 L278.8 340.0 L285.1 339.7 L291.4 342.0 L297.7 340.6 L304.0 341.2 L310.3 344.3 L316.6 344.1 L322.9 340.3 L329.2 332.3 L335.6 322.2 L341.9 313.7 L348.2 306.2 L354.5 292.1 L360.8 284.9 L367.1 279.0 L373.4 276.4 L379.7 270.5 L386.0 265.2 L392.3 256.1 L398.6 245.6 L404.9 234.1 L411.2 220.4 L417.5 207.8 L423.8 200.2 L430.1 192.8 L436.4 187.2 L442.7 182.7 L449.0 180.7 L455.4 177.5 L461.6 176.9 L468.0 183.1 L474.3 186.8 L480.6 198.1 L486.9 207.8 L493.2 212.0 L499.5 217.6 L505.8 225.2 L512.1 232.1 L518.4 238.9 L524.7 245.5 L531.0 248.1 L537.3 246.1 L543.6 242.1 L549.9 241.6 L556.2 243.2 L562.5 245.4 L568.8 248.3 L575.1 253.9 L581.5 262.7 L587.8 271.7 L594.1 282.1 L600.4 291.5 L606.7 303.8 L613.0 318.0 L619.3 330.1 L625.6 342.2 L631.9 352.4 L638.2 359.9 L644.5 364.1 L650.8 367.1 L657.1 369.6 L663.4 369.5 L669.7 372.5 L676.0 377.2 L682.3 379.9 L688.6 380.5 L694.9 385.3 L701.2 390.1 L707.5 394.5 L713.9 398.1 L720.2 401.5 L726.5 404.0 L732.8 404.1 L739.1 404.2 L745.4 407.9 L751.7 412.0 L758.0 415.2 L764.3 417.3 L770.6 419.3 L776.9 421.9 L783.2 423.9 L789.5 426.0 L795.8 426.9 L802.1 425.1 L808.4 422.8 L814.7 420.5 L821.0 418.6 L827.3 418.1 L833.6 415.9 L840.0 414.3 L846.3 413.6 L852.6 412.8 L858.9 410.1 L865.2 407.7 L871.5 405.4 L877.8 402.7 L884.1 397.6 L890.4 395.5 L896.7 393.5 L903.0 391.8 L909.3 390.9 L915.6 389.9 L921.9 388.1 L928.2 386.7 L934.5 386.7 L940.8 387.1 L947.1 385.7 L953.4 384.1 L959.8 383.3 L966.0 382.0 L972.4 381.2 L978.7 380.7 L985.0 380.6 L991.3 380.4 L997.6 381.8 L1003.9 383.2 L1010.2 384.8 L1016.5 386.4 L1022.8 387.7 L1029.1 389.3 L1035.4 389.4 L1041.7 390.4 L1048.0 392.1 L1054.3 392.6 L1060.6 391.7 L1066.9 389.9 L1073.2 386.8 L1079.5 384.3 L1085.8 381.5 L1092.2 377.8 L1098.5 372.8 L1104.8 369.8 L1111.1 366.4 L1117.4 363.2 L1123.7 360.9 L1130.0 356.3 L1136.3 352.3 L1142.6 350.6 L1148.9 348.9 L1155.2 345.1 L1161.5 337.9 L1167.8 329.2 L1174.1 317.6 L1180.4 303.2 L1186.7 292.5 L1193.0 284.7 L1199.3 275.7 L1205.6 269.5 L1212.0 266.9 L1218.2 264.5 L1224.6 261.3 L1230.9 259.6 L1237.2 260.1 L1243.5 259.2 L1249.8 250.9 L1256.1 243.8 L1262.4 238.1 L1268.7 233.8 L1275.0 231.9 L1281.3 230.0 L1287.6 233.3 L1293.9 233.3 L1300.2 230.3 L1306.5 227.9" stroke="#ff0000" stroke-opacity="0.6" stroke-width="1.3" stroke-linejoin="round" fill="none" clip-path="url(#main)"/><g clip-path="url(#main)"><rect x="13.50" y="523.4" width="1" height="6.0" fill="#ef5350" fill-opacity="0.85"/><rect x="11.60" y="524.3" width="4.8" height="4.8" fill="#ef5350"/><rect x="19.80" y="524.9" width="1" height="6.0" fill="#26a69a" fill-opacity="0.85"/><rect x="17.91" y="525.7" width="4.8" height="2.6" fill="#26a69a"/><rect x="26.11" y="518.9" width="1" height="19.0" fill="#ef5350" fill-opacity="0.85"/><rect x="24.21" y="524.9" width="4.8" height="7.9" fill="#ef5350"/><rect x="32.41" y="529.4" width="1" height="6.2" fill="#26a69a" fill-opacity="0.85"/><rect x="30.52" y="531.7" width="4.8" height="1.2" fill="#26a69a"/><rect x="38.72" y="529.1" width="1" height="3.1" fill="#26a69a" fill-opacity="0.85"/><rect x="36.82" y="530.8" width="4.8" height="1.2" fill="#26a69a"/><rect x="45.02" y="530.6" width="1" height="6.2" fill="#ef5350" fill-opacity="0.85"/><rect x="43.12" y="531.1" width="4.8" height="1.7" fill="#ef5350"/><rect x="51.33" y="530.6" width="1" height="4.5" fill="#ef5350" fill-opacity="0.85"/><rect x="49.43" y="531.7" width="4.8" height="1.2" fill="#ef5350"/><rect x="57.63" y="530.0" width="1" height="4.5" fill="#26a69a" fill-opacity="0.85"/><rect x="55.73" y="531.1" width="4.8" height="1.7" fill="#26a69a"/><rect x="63.94" y="529.1" width="1" height="3.1" fill="#26a69a" fill-opacity="0.85"/><rect x="62.04" y="529.8" width="4.8" height="1.2" fill="#26a69a"/><rect x="70.25" y="526.0" width="1" height="5.7" fill="#26a69a" fill-opacity="0.85"/><rect x="68.34" y="527.7" width="4.8" height="2.5" fill="#26a69a"/><rect x="76.55" y="526.6" width="1" height="4.0" fill="#ef5350" fill-opacity="0.85"/><rect x="74.65" y="527.4" width="4.8" height="1.5" fill="#ef5350"/><rect x="82.85" y="521.0" width="1" height="9.9" fill="#26a69a" fill-opacity="0.85"/><rect x="80.95" y="522.3" width="4.8" height="6.0" fill="#26a69a"/><rect x="89.16" y="520.4" width="1" height="3.9" fill="#ef5350" fill-opacity="0.85"/><rect x="87.26" y="521.5" width="4.8" height="1.2" fill="#ef5350"/><rect x="95.47" y="509.1" width="1" height="14.3" fill="#26a69a" fill-opacity="0.85"/><rect x="93.56" y="511.4" width="4.8" height="11.6" fill="#26a69a"/><rect x="101.77" y="505.2" width="1" height="14.6" fill="#26a69a" fill-opacity="0.85"/><rect x="99.87" y="509.9" width="4.8" height="1.8" fill="#26a69a"/><rect x="108.07" y="504.0" width="1" height="6.8" fill="#26a69a" fill-opacity="0.85"/><rect x="106.17" y="507.4" width="4.8" height="2.3" fill="#26a69a"/><rect x="114.38" y="506.5" width="1" height="7.3" fill="#ef5350" fill-opacity="0.85"/><rect x="112.48" y="507.2" width="4.8" height="1.7" fill="#ef5350"/><rect x="120.69" y="500.4" width="1" height="9.2" fill="#26a69a" fill-opacity="0.85"/><rect x="118.78" y="503.5" width="4.8" height="4.7" fill="#26a69a"/><rect x="126.99" y="495.5" width="1" height="16.2" fill="#26a69a" fill-opacity="0.85"/><rect x="125.09" y="498.7" width="4.8" height="4.5" fill="#26a69a"/><rect x="133.29" y="464.4" width="1" height="33.9" fill="#26a69a" fill-opacity="0.85"/><rect x="131.39" y="468.0" width="4.8" height="29.9" fill="#26a69a"/><rect x="139.60" y="437.0" width="1" height="39.4" fill="#26a69a" fill-opacity="0.85"/><rect x="137.70" y="439.5" width="4.8" height="27.7" fill="#26a69a"/><rect x="145.91" y="434.7" width="1" height="39.6" fill="#ef5350" fill-opacity="0.85"/><rect x="144.00" y="439.4" width="4.8" height="2.3" fill="#ef5350"/><rect x="152.21" y="420.0" width="1" height="40.9" fill="#26a69a" fill-opacity="0.85"/><rect x="150.31" y="425.1" width="4.8" height="16.3" fill="#26a69a"/><rect x="158.51" y="416.2" width="1" height="27.3" fill="#ef5350" fill-opacity="0.85"/><rect x="156.61" y="425.1" width="4.8" height="8.0" fill="#ef5350"/><rect x="164.82" y="386.6" width="1" height="50.9" fill="#26a69a" fill-opacity="0.85"/><rect x="162.92" y="402.1" width="4.8" height="30.9" fill="#26a69a"/><rect x="171.12" y="374.9" width="1" height="32.2" fill="#26a69a" fill-opacity="0.85"/><rect x="169.22" y="382.4" width="4.8" height="19.7" fill="#26a69a"/><rect x="177.43" y="357.4" width="1" height="39.8" fill="#26a69a" fill-opacity="0.85"/><rect x="175.53" y="369.0" width="4.8" height="13.4" fill="#26a69a"/><rect x="183.73" y="368.7" width="1" height="66.0" fill="#ef5350" fill-opacity="0.85"/><rect x="181.83" y="368.7" width="4.8" height="53.6" fill="#ef5350"/><rect x="190.04" y="389.4" width="1" height="32.9" fill="#26a69a" fill-opacity="0.85"/><rect x="188.14" y="390.4" width="4.8" height="31.9" fill="#26a69a"/><rect x="196.34" y="367.3" width="1" height="29.2" fill="#26a69a" fill-opacity="0.85"/><rect x="194.44" y="377.7" width="4.8" height="12.7" fill="#26a69a"/><rect x="202.65" y="372.9" width="1" height="18.6" fill="#ef5350" fill-opacity="0.85"/><rect x="200.75" y="377.7" width="4.8" height="6.8" fill="#ef5350"/><rect x="208.95" y="382.0" width="1" height="27.9" fill="#ef5350" fill-opacity="0.85"/><rect x="207.05" y="384.5" width="4.8" height="9.9" fill="#ef5350"/><rect x="215.26" y="346.6" width="1" height="48.1" fill="#26a69a" fill-opacity="0.85"/><rect x="213.36" y="354.4" width="4.8" height="39.2" fill="#26a69a"/><rect x="221.56" y="340.9" width="1" height="27.9" fill="#26a69a" fill-opacity="0.85"/><rect x="219.66" y="346.1" width="4.8" height="7.5" fill="#26a69a"/><rect x="227.87" y="304.7" width="1" height="62.1" fill="#26a69a" fill-opacity="0.85"/><rect x="225.97" y="337.8" width="4.8" height="7.7" fill="#26a69a"/><rect x="234.17" y="294.7" width="1" height="61.2" fill="#26a69a" fill-opacity="0.85"/><rect x="232.27" y="328.8" width="4.8" height="8.5" fill="#26a69a"/><rect x="240.48" y="259.5" width="1" height="70.0" fill="#26a69a" fill-opacity="0.85"/><rect x="238.58" y="262.9" width="4.8" height="65.6" fill="#26a69a"/><rect x="246.78" y="155.1" width="1" height="107.9" fill="#26a69a" fill-opacity="0.85"/><rect x="244.88" y="162.0" width="4.8" height="100.6" fill="#26a69a"/><rect x="253.09" y="115.2" width="1" height="106.6" fill="#ef5350" fill-opacity="0.85"/><rect x="251.19" y="162.0" width="4.8" height="35.4" fill="#ef5350"/><rect x="259.39" y="197.0" width="1" height="192.3" fill="#ef5350" fill-opacity="0.85"/><rect x="257.50" y="197.4" width="4.8" height="153.9" fill="#ef5350"/><rect x="265.70" y="266.8" width="1" height="86.0" fill="#26a69a" fill-opacity="0.85"/><rect x="263.80" y="322.3" width="4.8" height="29.0" fill="#26a69a"/><rect x="272.00" y="268.8" width="1" height="64.6" fill="#26a69a" fill-opacity="0.85"/><rect x="270.11" y="288.0" width="4.8" height="33.8" fill="#26a69a"/><rect x="278.31" y="273.4" width="1" height="61.6" fill="#ef5350" fill-opacity="0.85"/><rect x="276.41" y="288.0" width="4.8" height="20.6" fill="#ef5350"/><rect x="284.62" y="295.4" width="1" height="61.3" fill="#ef5350" fill-opacity="0.85"/><rect x="282.72" y="308.6" width="4.8" height="27.9" fill="#ef5350"/><rect x="290.92" y="335.0" width="1" height="57.4" fill="#ef5350" fill-opacity="0.85"/><rect x="289.02" y="336.2" width="4.8" height="27.5" fill="#ef5350"/><rect x="297.22" y="321.0" width="1" height="44.2" fill="#26a69a" fill-opacity="0.85"/><rect x="295.32" y="328.0" width="4.8" height="35.2" fill="#26a69a"/><rect x="303.53" y="318.7" width="1" height="38.0" fill="#ef5350" fill-opacity="0.85"/><rect x="301.63" y="328.0" width="4.8" height="19.1" fill="#ef5350"/><rect x="309.83" y="343.5" width="1" height="34.1" fill="#ef5350" fill-opacity="0.85"/><rect x="307.94" y="347.1" width="4.8" height="25.9" fill="#ef5350"/><rect x="316.14" y="340.4" width="1" height="51.6" fill="#26a69a" fill-opacity="0.85"/><rect x="314.24" y="342.4" width="4.8" height="30.1" fill="#26a69a"/><rect x="322.44" y="288.9" width="1" height="56.6" fill="#26a69a" fill-opacity="0.85"/><rect x="320.55" y="304.3" width="4.8" height="37.2" fill="#26a69a"/><rect x="328.75" y="238.1" width="1" height="77.5" fill="#26a69a" fill-opacity="0.85"/><rect x="326.85" y="256.7" width="4.8" height="46.9" fill="#26a69a"/><rect x="335.06" y="223.3" width="1" height="45.0" fill="#26a69a" fill-opacity="0.85"/><rect x="333.16" y="226.0" width="4.8" height="30.4" fill="#26a69a"/><rect x="341.36" y="222.9" width="1" height="39.7" fill="#ef5350" fill-opacity="0.85"/><rect x="339.46" y="226.0" width="4.8" height="6.6" fill="#ef5350"/><rect x="347.66" y="218.7" width="1" height="33.3" fill="#ef5350" fill-opacity="0.85"/><rect x="345.76" y="233.1" width="4.8" height="1.6" fill="#ef5350"/><rect x="353.97" y="150.9" width="1" height="91.8" fill="#26a69a" fill-opacity="0.85"/><rect x="352.07" y="159.1" width="4.8" height="75.1" fill="#26a69a"/><rect x="360.27" y="157.1" width="1" height="99.9" fill="#ef5350" fill-opacity="0.85"/><rect x="358.38" y="159.1" width="4.8" height="56.5" fill="#ef5350"/><rect x="366.58" y="187.4" width="1" height="58.4" fill="#ef5350" fill-opacity="0.85"/><rect x="364.68" y="216.0" width="4.8" height="7.3" fill="#ef5350"/><rect x="372.88" y="221.8" width="1" height="71.8" fill="#ef5350" fill-opacity="0.85"/><rect x="370.99" y="223.3" width="4.8" height="28.4" fill="#ef5350"/><rect x="379.19" y="207.1" width="1" height="72.5" fill="#26a69a" fill-opacity="0.85"/><rect x="377.29" y="214.5" width="4.8" height="36.8" fill="#26a69a"/><rect x="385.50" y="185.0" width="1" height="44.5" fill="#ef5350" fill-opacity="0.85"/><rect x="383.60" y="213.6" width="4.8" height="1.2" fill="#ef5350"/><rect x="391.80" y="156.6" width="1" height="62.1" fill="#26a69a" fill-opacity="0.85"/><rect x="389.90" y="170.0" width="4.8" height="44.5" fill="#26a69a"/><rect x="398.10" y="114.8" width="1" height="72.6" fill="#26a69a" fill-opacity="0.85"/><rect x="396.20" y="145.5" width="4.8" height="24.0" fill="#26a69a"/><rect x="404.41" y="105.9" width="1" height="59.0" fill="#26a69a" fill-opacity="0.85"/><rect x="402.51" y="124.5" width="4.8" height="20.2" fill="#26a69a"/><rect x="410.71" y="84.5" width="1" height="53.5" fill="#26a69a" fill-opacity="0.85"/><rect x="408.81" y="90.4" width="4.8" height="33.1" fill="#26a69a"/><rect x="417.02" y="63.5" width="1" height="41.9" fill="#26a69a" fill-opacity="0.85"/><rect x="415.12" y="88.7" width="4.8" height="1.7" fill="#26a69a"/><rect x="423.32" y="73.6" width="1" height="83.9" fill="#ef5350" fill-opacity="0.85"/><rect x="421.43" y="88.3" width="4.8" height="38.8" fill="#ef5350"/><rect x="429.63" y="96.6" width="1" height="65.8" fill="#26a69a" fill-opacity="0.85"/><rect x="427.73" y="123.2" width="4.8" height="3.1" fill="#26a69a"/><rect x="435.94" y="72.8" width="1" height="131.8" fill="#ef5350" fill-opacity="0.85"/><rect x="434.04" y="123.2" width="4.8" height="10.1" fill="#ef5350"/><rect x="442.24" y="103.1" width="1" height="67.7" fill="#ef5350" fill-opacity="0.85"/><rect x="440.34" y="133.3" width="4.8" height="6.7" fill="#ef5350"/><rect x="448.54" y="138.7" width="1" height="51.7" fill="#ef5350" fill-opacity="0.85"/><rect x="446.64" y="140.0" width="4.8" height="21.5" fill="#ef5350"/><rect x="454.85" y="138.0" width="1" height="41.0" fill="#26a69a" fill-opacity="0.85"/><rect x="452.95" y="147.4" width="4.8" height="14.1" fill="#26a69a"/><rect x="461.15" y="140.3" width="1" height="56.3" fill="#ef5350" fill-opacity="0.85"/><rect x="459.25" y="147.4" width="4.8" height="23.9" fill="#ef5350"/><rect x="467.46" y="164.3" width="1" height="93.0" fill="#ef5350" fill-opacity="0.85"/><rect x="465.56" y="171.7" width="4.8" height="70.5" fill="#ef5350"/><rect x="473.76" y="215.2" width="1" height="49.5" fill="#26a69a" fill-opacity="0.85"/><rect x="471.87" y="222.0" width="4.8" height="19.8" fill="#26a69a"/><rect x="480.07" y="220.4" width="1" height="109.9" fill="#ef5350" fill-opacity="0.85"/><rect x="478.17" y="221.7" width="4.8" height="83.8" fill="#ef5350"/><rect x="486.38" y="286.4" width="1" height="58.2" fill="#26a69a" fill-opacity="0.85"/><rect x="484.48" y="299.3" width="4.8" height="6.2" fill="#26a69a"/><rect x="492.68" y="249.9" width="1" height="62.1" fill="#26a69a" fill-opacity="0.85"/><rect x="490.78" y="251.9" width="4.8" height="47.4" fill="#26a69a"/><rect x="498.98" y="227.9" width="1" height="46.6" fill="#ef5350" fill-opacity="0.85"/><rect x="497.08" y="251.9" width="4.8" height="19.0" fill="#ef5350"/><rect x="505.29" y="237.2" width="1" height="64.3" fill="#ef5350" fill-opacity="0.85"/><rect x="503.39" y="270.9" width="4.8" height="26.4" fill="#ef5350"/><rect x="511.60" y="270.6" width="1" height="59.6" fill="#ef5350" fill-opacity="0.85"/><rect x="509.70" y="296.7" width="4.8" height="1.2" fill="#ef5350"/><rect x="517.90" y="252.8" width="1" height="52.6" fill="#ef5350" fill-opacity="0.85"/><rect x="516.00" y="297.9" width="4.8" height="6.5" fill="#ef5350"/><rect x="524.20" y="281.2" width="1" height="33.8" fill="#ef5350" fill-opacity="0.85"/><rect x="522.30" y="304.4" width="4.8" height="3.6" fill="#ef5350"/><rect x="530.51" y="259.0" width="1" height="50.1" fill="#26a69a" fill-opacity="0.85"/><rect x="528.61" y="272.4" width="4.8" height="35.6" fill="#26a69a"/><rect x="536.81" y="226.9" width="1" height="48.1" fill="#26a69a" fill-opacity="0.85"/><rect x="534.91" y="227.2" width="4.8" height="44.7" fill="#26a69a"/><rect x="543.12" y="197.0" width="1" height="38.7" fill="#26a69a" fill-opacity="0.85"/><rect x="541.22" y="204.0" width="4.8" height="22.9" fill="#26a69a"/><rect x="549.42" y="200.0" width="1" height="41.2" fill="#ef5350" fill-opacity="0.85"/><rect x="547.52" y="204.0" width="4.8" height="32.5" fill="#ef5350"/><rect x="555.73" y="235.7" width="1" height="27.2" fill="#ef5350" fill-opacity="0.85"/><rect x="553.83" y="236.8" width="4.8" height="22.2" fill="#ef5350"/><rect x="562.03" y="239.3" width="1" height="31.0" fill="#ef5350" fill-opacity="0.85"/><rect x="560.13" y="259.0" width="4.8" height="7.0" fill="#ef5350"/><rect x="568.34" y="253.6" width="1" height="33.9" fill="#ef5350" fill-opacity="0.85"/><rect x="566.44" y="266.0" width="4.8" height="10.0" fill="#ef5350"/><rect x="574.64" y="261.0" width="1" height="50.1" fill="#ef5350" fill-opacity="0.85"/><rect x="572.75" y="276.1" width="4.8" height="31.4" fill="#ef5350"/><rect x="580.95" y="306.9" width="1" height="75.6" fill="#ef5350" fill-opacity="0.85"/><rect x="579.05" y="308.0" width="4.8" height="38.3" fill="#ef5350"/><rect x="587.25" y="346.0" width="1" height="25.4" fill="#ef5350" fill-opacity="0.85"/><rect x="585.36" y="346.8" width="4.8" height="10.4" fill="#ef5350"/><rect x="593.56" y="353.0" width="1" height="38.8" fill="#ef5350" fill-opacity="0.85"/><rect x="591.66" y="357.2" width="4.8" height="23.3" fill="#ef5350"/><rect x="599.87" y="359.6" width="1" height="29.1" fill="#ef5350" fill-opacity="0.85"/><rect x="597.97" y="379.9" width="4.8" height="1.2" fill="#ef5350"/><rect x="606.17" y="370.1" width="1" height="51.2" fill="#ef5350" fill-opacity="0.85"/><rect x="604.27" y="382.0" width="4.8" height="38.8" fill="#ef5350"/><rect x="612.48" y="418.6" width="1" height="59.2" fill="#ef5350" fill-opacity="0.85"/><rect x="610.58" y="420.5" width="4.8" height="31.8" fill="#ef5350"/><rect x="618.78" y="436.3" width="1" height="24.5" fill="#26a69a" fill-opacity="0.85"/><rect x="616.88" y="445.0" width="4.8" height="6.8" fill="#26a69a"/><rect x="625.08" y="440.6" width="1" height="25.2" fill="#ef5350" fill-opacity="0.85"/><rect x="623.18" y="445.0" width="4.8" height="13.0" fill="#ef5350"/><rect x="631.39" y="436.8" width="1" height="24.0" fill="#26a69a" fill-opacity="0.85"/><rect x="629.49" y="448.7" width="4.8" height="9.0" fill="#26a69a"/><rect x="637.69" y="421.7" width="1" height="43.0" fill="#26a69a" fill-opacity="0.85"/><rect x="635.79" y="431.0" width="4.8" height="17.1" fill="#26a69a"/><rect x="644.00" y="396.9" width="1" height="33.7" fill="#26a69a" fill-opacity="0.85"/><rect x="642.10" y="403.9" width="4.8" height="26.7" fill="#26a69a"/><rect x="650.30" y="384.0" width="1" height="44.2" fill="#26a69a" fill-opacity="0.85"/><rect x="648.40" y="395.7" width="4.8" height="7.4" fill="#26a69a"/><rect x="656.61" y="387.9" width="1" height="19.4" fill="#26a69a" fill-opacity="0.85"/><rect x="654.71" y="393.3" width="4.8" height="1.6" fill="#26a69a"/><rect x="662.91" y="358.4" width="1" height="38.8" fill="#26a69a" fill-opacity="0.85"/><rect x="661.01" y="368.6" width="4.8" height="23.9" fill="#26a69a"/><rect x="669.22" y="360.4" width="1" height="49.6" fill="#ef5350" fill-opacity="0.85"/><rect x="667.32" y="368.6" width="4.8" height="32.6" fill="#ef5350"/><rect x="675.52" y="391.0" width="1" height="30.4" fill="#ef5350" fill-opacity="0.85"/><rect x="673.62" y="401.2" width="4.8" height="20.2" fill="#ef5350"/><rect x="681.83" y="398.1" width="1" height="22.9" fill="#26a69a" fill-opacity="0.85"/><rect x="679.93" y="405.9" width="4.8" height="15.0" fill="#26a69a"/><rect x="688.13" y="383.7" width="1" height="31.0" fill="#26a69a" fill-opacity="0.85"/><rect x="686.24" y="386.0" width="4.8" height="19.4" fill="#26a69a"/><rect x="694.44" y="385.7" width="1" height="45.3" fill="#ef5350" fill-opacity="0.85"/><rect x="692.54" y="386.0" width="4.8" height="45.0" fill="#ef5350"/><rect x="700.75" y="423.2" width="1" height="19.4" fill="#ef5350" fill-opacity="0.85"/><rect x="698.85" y="431.0" width="4.8" height="4.3" fill="#ef5350"/><rect x="707.05" y="424.0" width="1" height="15.5" fill="#ef5350" fill-opacity="0.85"/><rect x="705.15" y="434.9" width="4.8" height="2.0" fill="#ef5350"/><rect x="713.36" y="426.0" width="1" height="11.2" fill="#26a69a" fill-opacity="0.85"/><rect x="711.46" y="432.2" width="4.8" height="4.7" fill="#26a69a"/><rect x="719.66" y="430.7" width="1" height="15.0" fill="#ef5350" fill-opacity="0.85"/><rect x="717.76" y="432.2" width="4.8" height="1.6" fill="#ef5350"/><rect x="725.96" y="427.1" width="1" height="12.4" fill="#26a69a" fill-opacity="0.85"/><rect x="724.06" y="427.9" width="4.8" height="5.4" fill="#26a69a"/><rect x="732.27" y="396.6" width="1" height="35.2" fill="#26a69a" fill-opacity="0.85"/><rect x="730.37" y="404.3" width="4.8" height="23.3" fill="#26a69a"/><rect x="738.57" y="395.0" width="1" height="18.6" fill="#ef5350" fill-opacity="0.85"/><rect x="736.67" y="404.3" width="4.8" height="1.9" fill="#ef5350"/><rect x="744.88" y="402.3" width="1" height="55.4" fill="#ef5350" fill-opacity="0.85"/><rect x="742.98" y="406.2" width="4.8" height="36.9" fill="#ef5350"/><rect x="751.18" y="435.7" width="1" height="15.1" fill="#ef5350" fill-opacity="0.85"/><rect x="749.28" y="443.1" width="4.8" height="7.6" fill="#ef5350"/><rect x="757.49" y="441.1" width="1" height="16.6" fill="#26a69a" fill-opacity="0.85"/><rect x="755.59" y="445.8" width="4.8" height="4.9" fill="#26a69a"/><rect x="763.79" y="433.2" width="1" height="16.4" fill="#26a69a" fill-opacity="0.85"/><rect x="761.89" y="436.8" width="4.8" height="8.2" fill="#26a69a"/><rect x="770.10" y="434.1" width="1" height="8.4" fill="#ef5350" fill-opacity="0.85"/><rect x="768.20" y="436.3" width="4.8" height="1.6" fill="#ef5350"/><rect x="776.40" y="429.0" width="1" height="20.2" fill="#ef5350" fill-opacity="0.85"/><rect x="774.50" y="438.3" width="4.8" height="8.5" fill="#ef5350"/><rect x="782.71" y="441.0" width="1" height="8.6" fill="#26a69a" fill-opacity="0.85"/><rect x="780.81" y="443.4" width="4.8" height="2.7" fill="#26a69a"/><rect x="789.01" y="441.9" width="1" height="4.6" fill="#ef5350" fill-opacity="0.85"/><rect x="787.12" y="443.4" width="4.8" height="1.9" fill="#ef5350"/><rect x="795.32" y="435.2" width="1" height="9.8" fill="#26a69a" fill-opacity="0.85"/><rect x="793.42" y="435.7" width="4.8" height="8.8" fill="#26a69a"/><rect x="801.62" y="403.4" width="1" height="32.3" fill="#26a69a" fill-opacity="0.85"/><rect x="799.73" y="408.4" width="4.8" height="27.3" fill="#26a69a"/><rect x="807.93" y="394.9" width="1" height="18.6" fill="#26a69a" fill-opacity="0.85"/><rect x="806.03" y="400.6" width="4.8" height="7.2" fill="#26a69a"/><rect x="814.24" y="396.9" width="1" height="15.1" fill="#26a69a" fill-opacity="0.85"/><rect x="812.34" y="399.1" width="4.8" height="1.5" fill="#26a69a"/><rect x="820.54" y="391.3" width="1" height="18.3" fill="#ef5350" fill-opacity="0.85"/><rect x="818.64" y="399.1" width="4.8" height="1.5" fill="#ef5350"/><rect x="826.84" y="392.9" width="1" height="21.7" fill="#ef5350" fill-opacity="0.85"/><rect x="824.94" y="400.6" width="4.8" height="12.4" fill="#ef5350"/><rect x="833.15" y="388.7" width="1" height="29.0" fill="#26a69a" fill-opacity="0.85"/><rect x="831.25" y="395.4" width="4.8" height="16.1" fill="#26a69a"/><rect x="839.45" y="390.7" width="1" height="16.6" fill="#ef5350" fill-opacity="0.85"/><rect x="837.55" y="395.4" width="4.8" height="3.7" fill="#ef5350"/><rect x="845.76" y="395.4" width="1" height="13.0" fill="#ef5350" fill-opacity="0.85"/><rect x="843.86" y="399.5" width="4.8" height="7.0" fill="#ef5350"/><rect x="852.06" y="403.7" width="1" height="23.7" fill="#26a69a" fill-opacity="0.85"/><rect x="850.16" y="405.7" width="4.8" height="1.2" fill="#26a69a"/><rect x="858.37" y="378.4" width="1" height="27.6" fill="#26a69a" fill-opacity="0.85"/><rect x="856.47" y="384.6" width="4.8" height="21.1" fill="#26a69a"/><rect x="864.67" y="376.8" width="1" height="14.9" fill="#ef5350" fill-opacity="0.85"/><rect x="862.77" y="384.0" width="4.8" height="1.2" fill="#ef5350"/><rect x="870.98" y="377.8" width="1" height="16.1" fill="#26a69a" fill-opacity="0.85"/><rect x="869.08" y="383.5" width="4.8" height="1.5" fill="#26a69a"/><rect x="877.28" y="367.2" width="1" height="18.9" fill="#26a69a" fill-opacity="0.85"/><rect x="875.38" y="376.5" width="4.8" height="6.2" fill="#26a69a"/><rect x="883.59" y="347.1" width="1" height="29.4" fill="#26a69a" fill-opacity="0.85"/><rect x="881.69" y="349.4" width="4.8" height="26.8" fill="#26a69a"/><rect x="889.89" y="348.9" width="1" height="31.1" fill="#ef5350" fill-opacity="0.85"/><rect x="888.00" y="349.4" width="4.8" height="26.4" fill="#ef5350"/><rect x="896.20" y="365.4" width="1" height="18.1" fill="#26a69a" fill-opacity="0.85"/><rect x="894.30" y="374.7" width="4.8" height="1.2" fill="#26a69a"/><rect x="902.50" y="359.8" width="1" height="21.4" fill="#26a69a" fill-opacity="0.85"/><rect x="900.61" y="374.7" width="4.8" height="1.2" fill="#26a69a"/><rect x="908.81" y="373.7" width="1" height="14.5" fill="#ef5350" fill-opacity="0.85"/><rect x="906.91" y="375.3" width="4.8" height="7.4" fill="#ef5350"/><rect x="915.12" y="377.8" width="1" height="7.7" fill="#26a69a" fill-opacity="0.85"/><rect x="913.22" y="380.4" width="4.8" height="1.2" fill="#26a69a"/><rect x="921.42" y="370.0" width="1" height="15.8" fill="#26a69a" fill-opacity="0.85"/><rect x="919.52" y="371.6" width="4.8" height="9.6" fill="#26a69a"/><rect x="927.72" y="369.1" width="1" height="8.7" fill="#ef5350" fill-opacity="0.85"/><rect x="925.82" y="371.1" width="4.8" height="1.5" fill="#ef5350"/><rect x="934.03" y="371.9" width="1" height="18.9" fill="#ef5350" fill-opacity="0.85"/><rect x="932.13" y="372.6" width="4.8" height="14.5" fill="#ef5350"/><rect x="940.33" y="385.5" width="1" height="14.6" fill="#ef5350" fill-opacity="0.85"/><rect x="938.43" y="387.1" width="4.8" height="3.7" fill="#ef5350"/><rect x="946.64" y="368.0" width="1" height="24.8" fill="#26a69a" fill-opacity="0.85"/><rect x="944.74" y="372.2" width="4.8" height="18.0" fill="#26a69a"/><rect x="952.94" y="366.0" width="1" height="14.6" fill="#26a69a" fill-opacity="0.85"/><rect x="951.04" y="368.7" width="4.8" height="3.1" fill="#26a69a"/><rect x="959.25" y="364.0" width="1" height="16.0" fill="#ef5350" fill-opacity="0.85"/><rect x="957.35" y="368.2" width="4.8" height="7.5" fill="#ef5350"/><rect x="965.55" y="358.3" width="1" height="18.9" fill="#26a69a" fill-opacity="0.85"/><rect x="963.65" y="370.2" width="4.8" height="5.5" fill="#26a69a"/><rect x="971.86" y="368.2" width="1" height="8.7" fill="#ef5350" fill-opacity="0.85"/><rect x="969.96" y="370.2" width="4.8" height="3.1" fill="#ef5350"/><rect x="978.16" y="372.9" width="1" height="5.6" fill="#ef5350" fill-opacity="0.85"/><rect x="976.26" y="373.3" width="4.8" height="2.4" fill="#ef5350"/><rect x="984.47" y="374.4" width="1" height="6.2" fill="#ef5350" fill-opacity="0.85"/><rect x="982.57" y="376.0" width="4.8" height="4.0" fill="#ef5350"/><rect x="990.77" y="374.4" width="1" height="7.5" fill="#26a69a" fill-opacity="0.85"/><rect x="988.88" y="378.5" width="4.8" height="1.2" fill="#26a69a"/><rect x="997.08" y="377.2" width="1" height="30.7" fill="#ef5350" fill-opacity="0.85"/><rect x="995.18" y="378.5" width="4.8" height="16.1" fill="#ef5350"/><rect x="1003.38" y="393.0" width="1" height="11.8" fill="#ef5350" fill-opacity="0.85"/><rect x="1001.49" y="394.3" width="4.8" height="2.8" fill="#ef5350"/><rect x="1009.69" y="388.4" width="1" height="14.4" fill="#ef5350" fill-opacity="0.85"/><rect x="1007.79" y="397.1" width="4.8" height="2.6" fill="#ef5350"/><rect x="1016.00" y="396.6" width="1" height="6.7" fill="#ef5350" fill-opacity="0.85"/><rect x="1014.10" y="399.7" width="4.8" height="1.6" fill="#ef5350"/><rect x="1022.30" y="397.7" width="1" height="12.9" fill="#26a69a" fill-opacity="0.85"/><rect x="1020.40" y="400.5" width="4.8" height="1.2" fill="#26a69a"/><rect x="1028.61" y="396.6" width="1" height="9.8" fill="#ef5350" fill-opacity="0.85"/><rect x="1026.70" y="401.3" width="4.8" height="3.5" fill="#ef5350"/><rect x="1034.91" y="388.4" width="1" height="18.0" fill="#26a69a" fill-opacity="0.85"/><rect x="1033.01" y="389.9" width="4.8" height="14.9" fill="#26a69a"/><rect x="1041.21" y="389.3" width="1" height="13.5" fill="#ef5350" fill-opacity="0.85"/><rect x="1039.31" y="389.9" width="4.8" height="10.3" fill="#ef5350"/><rect x="1047.52" y="399.4" width="1" height="11.8" fill="#ef5350" fill-opacity="0.85"/><rect x="1045.62" y="400.0" width="4.8" height="7.8" fill="#ef5350"/><rect x="1053.83" y="396.2" width="1" height="12.9" fill="#26a69a" fill-opacity="0.85"/><rect x="1051.92" y="397.1" width="4.8" height="10.5" fill="#26a69a"/><rect x="1060.13" y="375.2" width="1" height="21.6" fill="#26a69a" fill-opacity="0.85"/><rect x="1058.23" y="383.5" width="4.8" height="13.1" fill="#26a69a"/><rect x="1066.43" y="370.8" width="1" height="13.8" fill="#26a69a" fill-opacity="0.85"/><rect x="1064.53" y="373.1" width="4.8" height="9.8" fill="#26a69a"/><rect x="1072.74" y="347.4" width="1" height="29.2" fill="#26a69a" fill-opacity="0.85"/><rect x="1070.84" y="357.0" width="4.8" height="15.6" fill="#26a69a"/><rect x="1079.04" y="348.9" width="1" height="22.5" fill="#ef5350" fill-opacity="0.85"/><rect x="1077.14" y="357.0" width="4.8" height="3.6" fill="#ef5350"/><rect x="1085.35" y="348.2" width="1" height="20.6" fill="#26a69a" fill-opacity="0.85"/><rect x="1083.45" y="355.4" width="4.8" height="5.2" fill="#26a69a"/><rect x="1091.65" y="339.3" width="1" height="23.3" fill="#26a69a" fill-opacity="0.85"/><rect x="1089.75" y="342.0" width="4.8" height="12.8" fill="#26a69a"/><rect x="1097.96" y="319.5" width="1" height="22.0" fill="#26a69a" fill-opacity="0.85"/><rect x="1096.06" y="325.4" width="4.8" height="16.1" fill="#26a69a"/><rect x="1104.26" y="324.9" width="1" height="21.2" fill="#ef5350" fill-opacity="0.85"/><rect x="1102.36" y="325.4" width="4.8" height="15.8" fill="#ef5350"/><rect x="1110.57" y="326.0" width="1" height="23.2" fill="#26a69a" fill-opacity="0.85"/><rect x="1108.67" y="334.7" width="4.8" height="6.5" fill="#26a69a"/><rect x="1116.88" y="315.1" width="1" height="27.6" fill="#26a69a" fill-opacity="0.85"/><rect x="1114.97" y="332.6" width="4.8" height="1.6" fill="#26a69a"/><rect x="1123.18" y="317.1" width="1" height="33.7" fill="#ef5350" fill-opacity="0.85"/><rect x="1121.28" y="332.2" width="4.8" height="6.2" fill="#ef5350"/><rect x="1129.48" y="287.1" width="1" height="57.2" fill="#26a69a" fill-opacity="0.85"/><rect x="1127.58" y="313.0" width="4.8" height="25.4" fill="#26a69a"/><rect x="1135.79" y="297.8" width="1" height="20.0" fill="#ef5350" fill-opacity="0.85"/><rect x="1133.89" y="312.8" width="4.8" height="1.7" fill="#ef5350"/><rect x="1142.10" y="313.0" width="1" height="29.0" fill="#ef5350" fill-opacity="0.85"/><rect x="1140.19" y="314.0" width="4.8" height="20.7" fill="#ef5350"/><rect x="1148.40" y="321.2" width="1" height="15.8" fill="#26a69a" fill-opacity="0.85"/><rect x="1146.50" y="332.0" width="4.8" height="2.7" fill="#26a69a"/><rect x="1154.70" y="305.7" width="1" height="27.4" fill="#26a69a" fill-opacity="0.85"/><rect x="1152.80" y="309.4" width="4.8" height="22.2" fill="#26a69a"/><rect x="1161.01" y="268.8" width="1" height="43.7" fill="#26a69a" fill-opacity="0.85"/><rect x="1159.11" y="270.0" width="4.8" height="38.8" fill="#26a69a"/><rect x="1167.32" y="244.0" width="1" height="28.2" fill="#26a69a" fill-opacity="0.85"/><rect x="1165.41" y="246.3" width="4.8" height="24.0" fill="#26a69a"/><rect x="1173.62" y="203.2" width="1" height="50.4" fill="#26a69a" fill-opacity="0.85"/><rect x="1171.72" y="207.1" width="4.8" height="38.4" fill="#26a69a"/><rect x="1179.92" y="154.9" width="1" height="81.7" fill="#26a69a" fill-opacity="0.85"/><rect x="1178.02" y="166.8" width="4.8" height="39.8" fill="#26a69a"/><rect x="1186.23" y="144.3" width="1" height="70.6" fill="#ef5350" fill-opacity="0.85"/><rect x="1184.33" y="166.8" width="4.8" height="23.7" fill="#ef5350"/><rect x="1192.53" y="188.0" width="1" height="63.4" fill="#ef5350" fill-opacity="0.85"/><rect x="1190.63" y="190.5" width="4.8" height="20.2" fill="#ef5350"/><rect x="1198.84" y="187.4" width="1" height="25.9" fill="#26a69a" fill-opacity="0.85"/><rect x="1196.94" y="190.5" width="4.8" height="20.2" fill="#26a69a"/><rect x="1205.14" y="188.0" width="1" height="48.4" fill="#ef5350" fill-opacity="0.85"/><rect x="1203.24" y="190.5" width="4.8" height="20.2" fill="#ef5350"/><rect x="1211.45" y="181.5" width="1" height="90.7" fill="#ef5350" fill-opacity="0.85"/><rect x="1209.55" y="210.7" width="4.8" height="30.8" fill="#ef5350"/><rect x="1217.75" y="228.8" width="1" height="42.8" fill="#ef5350" fill-opacity="0.85"/><rect x="1215.85" y="241.1" width="4.8" height="1.2" fill="#ef5350"/><rect x="1224.06" y="220.6" width="1" height="29.6" fill="#26a69a" fill-opacity="0.85"/><rect x="1222.16" y="230.5" width="4.8" height="11.7" fill="#26a69a"/><rect x="1230.37" y="227.5" width="1" height="49.3" fill="#ef5350" fill-opacity="0.85"/><rect x="1228.46" y="230.3" width="4.8" height="13.2" fill="#ef5350"/><rect x="1236.67" y="234.2" width="1" height="36.2" fill="#ef5350" fill-opacity="0.85"/><rect x="1234.77" y="243.5" width="4.8" height="21.4" fill="#ef5350"/><rect x="1242.97" y="242.6" width="1" height="29.2" fill="#26a69a" fill-opacity="0.85"/><rect x="1241.07" y="250.5" width="4.8" height="14.1" fill="#26a69a"/><rect x="1249.28" y="159.3" width="1" height="92.7" fill="#26a69a" fill-opacity="0.85"/><rect x="1247.38" y="172.5" width="4.8" height="77.4" fill="#26a69a"/><rect x="1255.59" y="156.2" width="1" height="28.2" fill="#ef5350" fill-opacity="0.85"/><rect x="1253.68" y="172.5" width="4.8" height="3.9" fill="#ef5350"/><rect x="1261.89" y="165.5" width="1" height="29.2" fill="#ef5350" fill-opacity="0.85"/><rect x="1259.99" y="176.7" width="4.8" height="7.4" fill="#ef5350"/><rect x="1268.19" y="180.0" width="1" height="39.8" fill="#ef5350" fill-opacity="0.85"/><rect x="1266.29" y="184.1" width="4.8" height="8.5" fill="#ef5350"/><rect x="1274.50" y="190.0" width="1" height="31.0" fill="#ef5350" fill-opacity="0.85"/><rect x="1272.60" y="192.6" width="4.8" height="21.0" fill="#ef5350"/><rect x="1280.80" y="207.1" width="1" height="25.4" fill="#26a69a" fill-opacity="0.85"/><rect x="1278.90" y="212.0" width="4.8" height="1.6" fill="#26a69a"/><rect x="1287.11" y="203.5" width="1" height="74.2" fill="#ef5350" fill-opacity="0.85"/><rect x="1285.21" y="212.0" width="4.8" height="52.9" fill="#ef5350"/><rect x="1293.41" y="230.3" width="1" height="45.6" fill="#26a69a" fill-opacity="0.85"/><rect x="1291.51" y="233.1" width="4.8" height="31.8" fill="#26a69a"/><rect x="1299.72" y="200.9" width="1" height="32.5" fill="#26a69a" fill-opacity="0.85"/><rect x="1297.82" y="202.4" width="4.8" height="29.8" fill="#26a69a"/><rect x="1306.02" y="199.0" width="1" height="14.6" fill="#ef5350" fill-opacity="0.85"/><rect x="1304.12" y="201.8" width="4.8" height="2.8" fill="#ef5350"/></g><path d="M11 204.3H1404" stroke="#ef5350" stroke-width="1" stroke-dasharray="1 2" fill="none"/><clipPath id="obc"><rect x="11" y="554" width="1449" height="31.30"/></clipPath><linearGradient id="obg" gradientUnits="userSpaceOnUse" x1="0" y1="550.20" x2="0" y2="585.30"><stop offset="0" stop-color="#4caf50" stop-opacity="1"/><stop offset="1" stop-color="#4caf50" stop-opacity="0"/></linearGradient><path d="M11.00 578.90 L14.00 585.45 L20.30 582.14 L26.61 596.97 L32.91 595.64 L39.22 594.54 L45.52 598.53 L51.83 598.53 L58.13 596.05 L64.44 594.19 L70.75 591.29 L77.05 594.25 L83.35 585.98 L89.66 586.96 L95.97 577.07 L102.27 576.07 L108.57 574.46 L114.88 578.05 L121.19 574.42 L127.49 571.73 L133.79 562.40 L140.10 558.71 L146.41 561.37 L152.71 559.51 L159.01 568.06 L165.32 563.62 L171.62 561.66 L177.93 560.56 L184.23 591.71 L190.54 585.13 L196.84 582.91 L203.15 585.89 L209.45 590.17 L215.76 582.73 L222.06 581.43 L228.37 580.14 L234.67 578.77 L240.98 571.17 L247.28 564.78 L253.59 575.36 L259.89 605.29 L266.20 601.87 L272.50 598.09 L278.81 601.21 L285.12 605.30 L291.42 609.07 L297.72 604.40 L304.03 607.15 L310.33 610.75 L316.64 606.45 L322.94 601.57 L329.25 596.19 L335.56 593.07 L341.86 594.22 L348.16 594.60 L354.47 587.08 L360.77 596.70 L367.08 597.92 L373.38 602.37 L379.69 598.03 L386.00 598.08 L392.30 593.10 L398.60 590.62 L404.91 588.58 L411.21 585.46 L417.52 585.30 L423.82 593.13 L430.13 592.69 L436.44 594.78 L442.74 596.20 L449.04 600.72 L455.35 598.55 L461.65 603.54 L467.96 615.54 L474.26 611.97 L480.57 622.78 L486.88 621.67 L493.18 613.62 L499.48 616.10 L505.79 619.42 L512.10 619.45 L518.40 620.36 L524.70 620.86 L531.01 613.63 L537.31 605.83 L543.62 602.30 L549.92 607.98 L556.23 611.61 L562.53 612.72 L568.84 614.36 L575.14 619.24 L581.45 624.48 L587.75 625.84 L594.06 628.68 L600.37 628.75 L606.67 633.33 L612.98 636.46 L619.28 634.52 L625.58 635.87 L631.89 633.22 L638.19 628.27 L644.50 621.28 L650.80 619.27 L657.11 618.66 L663.41 612.54 L669.72 618.70 L676.02 622.09 L682.33 618.16 L688.63 613.39 L694.94 621.25 L701.25 621.93 L707.55 622.20 L713.86 620.88 L720.16 621.19 L726.46 619.36 L732.77 612.44 L739.07 612.91 L745.38 621.18 L751.68 622.69 L757.99 621.08 L764.29 618.10 L770.60 618.37 L776.90 620.60 L783.21 619.30 L789.51 619.83 L795.82 615.90 L802.12 606.20 L808.43 603.77 L814.74 603.30 L821.04 603.90 L827.34 608.84 L833.65 602.59 L839.95 604.12 L846.26 607.16 L852.56 606.84 L858.87 599.08 L865.17 599.22 L871.48 598.71 L877.78 596.14 L884.09 587.81 L890.39 600.50 L896.70 600.14 L903.00 600.14 L909.31 603.94 L915.62 603.01 L921.92 599.51 L928.22 600.05 L934.53 607.55 L940.83 609.32 L947.14 601.12 L953.44 599.73 L959.75 603.48 L966.05 601.09 L972.36 602.84 L978.66 604.24 L984.97 606.76 L991.27 605.92 L997.58 614.90 L1003.88 616.15 L1010.19 617.48 L1016.50 618.33 L1022.80 617.71 L1029.11 620.18 L1035.41 609.20 L1041.71 615.27 L1048.02 619.25 L1054.33 612.05 L1060.63 604.33 L1066.93 599.29 L1073.24 592.68 L1079.54 595.02 L1085.85 592.93 L1092.15 588.05 L1098.46 583.04 L1104.76 593.09 L1111.07 590.94 L1117.38 590.24 L1123.68 593.98 L1129.98 585.81 L1136.29 586.76 L1142.60 598.46 L1148.90 597.47 L1155.20 590.10 L1161.51 581.06 L1167.82 577.11 L1174.12 572.12 L1180.42 568.38 L1186.73 578.01 L1193.03 585.33 L1199.34 582.48 L1205.64 589.29 L1211.95 598.38 L1218.25 598.52 L1224.56 596.20 L1230.87 600.12 L1237.17 606.10 L1243.47 602.71 L1249.78 588.98 L1256.09 590.07 L1262.39 592.28 L1268.69 594.75 L1275.00 600.59 L1281.30 600.26 L1287.61 612.95 L1293.91 606.09 L1300.22 600.39 L1306.52 600.91 L1306.52 585.30 L11.00 585.30Z" fill="url(#obg)" clip-path="url(#obc)"/><clipPath id="osc"><rect x="11" y="632.10" width="1449" height="9.90"/></clipPath><linearGradient id="osg" gradientUnits="userSpaceOnUse" x1="0" y1="632.10" x2="0" y2="667.20"><stop offset="0" stop-color="#f23645" stop-opacity="0"/><stop offset="1" stop-color="#f23645" stop-opacity="1"/></linearGradient><path d="M11.00 578.90 L14.00 585.45 L20.30 582.14 L26.61 596.97 L32.91 595.64 L39.22 594.54 L45.52 598.53 L51.83 598.53 L58.13 596.05 L64.44 594.19 L70.75 591.29 L77.05 594.25 L83.35 585.98 L89.66 586.96 L95.97 577.07 L102.27 576.07 L108.57 574.46 L114.88 578.05 L121.19 574.42 L127.49 571.73 L133.79 562.40 L140.10 558.71 L146.41 561.37 L152.71 559.51 L159.01 568.06 L165.32 563.62 L171.62 561.66 L177.93 560.56 L184.23 591.71 L190.54 585.13 L196.84 582.91 L203.15 585.89 L209.45 590.17 L215.76 582.73 L222.06 581.43 L228.37 580.14 L234.67 578.77 L240.98 571.17 L247.28 564.78 L253.59 575.36 L259.89 605.29 L266.20 601.87 L272.50 598.09 L278.81 601.21 L285.12 605.30 L291.42 609.07 L297.72 604.40 L304.03 607.15 L310.33 610.75 L316.64 606.45 L322.94 601.57 L329.25 596.19 L335.56 593.07 L341.86 594.22 L348.16 594.60 L354.47 587.08 L360.77 596.70 L367.08 597.92 L373.38 602.37 L379.69 598.03 L386.00 598.08 L392.30 593.10 L398.60 590.62 L404.91 588.58 L411.21 585.46 L417.52 585.30 L423.82 593.13 L430.13 592.69 L436.44 594.78 L442.74 596.20 L449.04 600.72 L455.35 598.55 L461.65 603.54 L467.96 615.54 L474.26 611.97 L480.57 622.78 L486.88 621.67 L493.18 613.62 L499.48 616.10 L505.79 619.42 L512.10 619.45 L518.40 620.36 L524.70 620.86 L531.01 613.63 L537.31 605.83 L543.62 602.30 L549.92 607.98 L556.23 611.61 L562.53 612.72 L568.84 614.36 L575.14 619.24 L581.45 624.48 L587.75 625.84 L594.06 628.68 L600.37 628.75 L606.67 633.33 L612.98 636.46 L619.28 634.52 L625.58 635.87 L631.89 633.22 L638.19 628.27 L644.50 621.28 L650.80 619.27 L657.11 618.66 L663.41 612.54 L669.72 618.70 L676.02 622.09 L682.33 618.16 L688.63 613.39 L694.94 621.25 L701.25 621.93 L707.55 622.20 L713.86 620.88 L720.16 621.19 L726.46 619.36 L732.77 612.44 L739.07 612.91 L745.38 621.18 L751.68 622.69 L757.99 621.08 L764.29 618.10 L770.60 618.37 L776.90 620.60 L783.21 619.30 L789.51 619.83 L795.82 615.90 L802.12 606.20 L808.43 603.77 L814.74 603.30 L821.04 603.90 L827.34 608.84 L833.65 602.59 L839.95 604.12 L846.26 607.16 L852.56 606.84 L858.87 599.08 L865.17 599.22 L871.48 598.71 L877.78 596.14 L884.09 587.81 L890.39 600.50 L896.70 600.14 L903.00 600.14 L909.31 603.94 L915.62 603.01 L921.92 599.51 L928.22 600.05 L934.53 607.55 L940.83 609.32 L947.14 601.12 L953.44 599.73 L959.75 603.48 L966.05 601.09 L972.36 602.84 L978.66 604.24 L984.97 606.76 L991.27 605.92 L997.58 614.90 L1003.88 616.15 L1010.19 617.48 L1016.50 618.33 L1022.80 617.71 L1029.11 620.18 L1035.41 609.20 L1041.71 615.27 L1048.02 619.25 L1054.33 612.05 L1060.63 604.33 L1066.93 599.29 L1073.24 592.68 L1079.54 595.02 L1085.85 592.93 L1092.15 588.05 L1098.46 583.04 L1104.76 593.09 L1111.07 590.94 L1117.38 590.24 L1123.68 593.98 L1129.98 585.81 L1136.29 586.76 L1142.60 598.46 L1148.90 597.47 L1155.20 590.10 L1161.51 581.06 L1167.82 577.11 L1174.12 572.12 L1180.42 568.38 L1186.73 578.01 L1193.03 585.33 L1199.34 582.48 L1205.64 589.29 L1211.95 598.38 L1218.25 598.52 L1224.56 596.20 L1230.87 600.12 L1237.17 606.10 L1243.47 602.71 L1249.78 588.98 L1256.09 590.07 L1262.39 592.28 L1268.69 594.75 L1275.00 600.59 L1281.30 600.26 L1287.61 612.95 L1293.91 606.09 L1300.22 600.39 L1306.52 600.91 L1306.52 632.10 L11.00 632.10Z" fill="url(#osg)" clip-path="url(#osc)"/><path d="M11.00 592.60 L14.00 592.64 L20.30 590.32 L26.61 590.20 L32.91 589.97 L39.22 589.52 L45.52 589.36 L51.83 589.19 L58.13 589.11 L64.44 588.89 L70.75 588.46 L77.05 589.75 L83.35 590.44 L89.66 591.20 L95.97 591.26 L102.27 590.59 L108.57 590.04 L114.88 588.69 L121.19 587.17 L127.49 585.54 L133.79 582.96 L140.10 580.12 L146.41 577.64 L152.71 575.16 L159.01 573.50 L165.32 571.32 L171.62 569.58 L177.93 567.69 L184.23 568.74 L190.54 569.38 L196.84 569.99 L203.15 570.55 L209.45 571.67 L215.76 572.46 L222.06 573.82 L228.37 575.35 L234.67 576.59 L240.98 577.42 L247.28 577.19 L253.59 578.03 L259.89 581.14 L266.20 584.10 L272.50 584.55 L278.81 585.70 L285.12 587.30 L291.42 588.95 L297.72 589.97 L304.03 591.72 L310.33 593.81 L316.64 595.69 L322.94 597.32 L329.25 599.10 L335.56 601.13 L341.86 602.47 L348.16 601.71 L354.47 600.65 L360.77 600.55 L367.08 600.32 L373.38 600.11 L379.69 599.32 L386.00 598.87 L392.30 597.87 L398.60 596.43 L404.91 595.15 L411.21 594.00 L417.52 593.22 L423.82 593.23 L430.13 593.12 L436.44 593.13 L442.74 593.78 L449.04 594.07 L455.35 594.12 L461.65 594.20 L467.96 595.45 L474.26 596.44 L480.57 598.56 L486.88 600.78 L493.18 602.57 L499.48 604.76 L505.79 607.19 L512.10 609.07 L518.40 611.05 L524.70 612.91 L531.01 614.16 L537.31 614.52 L543.62 614.79 L549.92 615.11 L556.23 614.83 L562.53 614.88 L568.84 614.28 L575.14 614.11 L581.45 614.88 L587.75 615.58 L594.06 616.24 L600.37 616.90 L606.67 617.83 L612.98 618.94 L619.28 620.44 L625.58 622.58 L631.89 624.79 L638.19 626.24 L644.50 626.93 L650.80 627.40 L657.11 627.71 L663.41 627.23 L669.72 626.82 L676.02 626.55 L682.33 625.80 L688.63 624.70 L694.94 623.84 L701.25 622.80 L707.55 621.92 L713.86 620.85 L720.16 619.99 L726.46 619.35 L732.77 618.72 L739.07 618.26 L745.38 618.44 L751.68 619.17 L757.99 619.34 L764.29 619.05 L770.60 619.07 L776.90 619.58 L783.21 619.44 L789.51 619.29 L795.82 618.84 L802.12 617.80 L808.43 616.55 L814.74 615.40 L821.04 614.80 L827.34 614.50 L833.65 613.18 L839.95 611.85 L846.26 610.86 L852.56 610.05 L858.87 608.67 L865.17 607.15 L871.48 605.68 L877.78 603.98 L884.09 601.98 L890.39 601.57 L896.70 601.31 L903.00 601.09 L909.31 601.09 L915.62 600.67 L921.92 600.45 L928.22 600.16 L934.53 600.19 L940.83 600.37 L947.14 600.51 L953.44 600.55 L959.75 600.89 L966.05 601.24 L972.36 602.31 L978.66 602.58 L984.97 603.05 L991.27 603.47 L997.58 604.25 L1003.88 605.19 L1010.19 606.47 L1016.50 607.78 L1022.80 608.51 L1029.11 609.28 L1035.41 609.86 L1041.71 610.97 L1048.02 612.09 L1054.33 612.88 L1060.63 612.98 L1066.93 612.63 L1073.24 611.63 L1079.54 610.85 L1085.85 609.28 L1092.15 607.27 L1098.46 604.81 L1104.76 603.01 L1111.07 601.09 L1117.38 598.96 L1123.68 597.87 L1129.98 595.76 L1136.29 593.44 L1142.60 592.47 L1148.90 591.98 L1155.20 591.33 L1161.51 590.50 L1167.82 589.22 L1174.12 587.73 L1180.42 586.33 L1186.73 585.97 L1193.03 585.41 L1199.34 584.81 L1205.64 584.74 L1211.95 585.06 L1218.25 585.96 L1224.56 586.64 L1230.87 586.76 L1237.17 587.37 L1243.47 588.27 L1249.78 588.84 L1256.09 589.77 L1262.39 591.21 L1268.69 593.09 L1275.00 594.70 L1281.30 595.77 L1287.61 597.94 L1293.91 599.14 L1300.22 599.29 L1306.52 599.46" stroke="#f9e04b" stroke-width="1.5" stroke-linejoin="round" fill="none" clip-path="url(#rsi)"/><path d="M11.00 578.90 L14.00 585.45 L20.30 582.14 L26.61 596.97 L32.91 595.64 L39.22 594.54 L45.52 598.53 L51.83 598.53 L58.13 596.05 L64.44 594.19 L70.75 591.29 L77.05 594.25 L83.35 585.98 L89.66 586.96 L95.97 577.07 L102.27 576.07 L108.57 574.46 L114.88 578.05 L121.19 574.42 L127.49 571.73 L133.79 562.40 L140.10 558.71 L146.41 561.37 L152.71 559.51 L159.01 568.06 L165.32 563.62 L171.62 561.66 L177.93 560.56 L184.23 591.71 L190.54 585.13 L196.84 582.91 L203.15 585.89 L209.45 590.17 L215.76 582.73 L222.06 581.43 L228.37 580.14 L234.67 578.77 L240.98 571.17 L247.28 564.78 L253.59 575.36 L259.89 605.29 L266.20 601.87 L272.50 598.09 L278.81 601.21 L285.12 605.30 L291.42 609.07 L297.72 604.40 L304.03 607.15 L310.33 610.75 L316.64 606.45 L322.94 601.57 L329.25 596.19 L335.56 593.07 L341.86 594.22 L348.16 594.60 L354.47 587.08 L360.77 596.70 L367.08 597.92 L373.38 602.37 L379.69 598.03 L386.00 598.08 L392.30 593.10 L398.60 590.62 L404.91 588.58 L411.21 585.46 L417.52 585.30 L423.82 593.13 L430.13 592.69 L436.44 594.78 L442.74 596.20 L449.04 600.72 L455.35 598.55 L461.65 603.54 L467.96 615.54 L474.26 611.97 L480.57 622.78 L486.88 621.67 L493.18 613.62 L499.48 616.10 L505.79 619.42 L512.10 619.45 L518.40 620.36 L524.70 620.86 L531.01 613.63 L537.31 605.83 L543.62 602.30 L549.92 607.98 L556.23 611.61 L562.53 612.72 L568.84 614.36 L575.14 619.24 L581.45 624.48 L587.75 625.84 L594.06 628.68 L600.37 628.75 L606.67 633.33 L612.98 636.46 L619.28 634.52 L625.58 635.87 L631.89 633.22 L638.19 628.27 L644.50 621.28 L650.80 619.27 L657.11 618.66 L663.41 612.54 L669.72 618.70 L676.02 622.09 L682.33 618.16 L688.63 613.39 L694.94 621.25 L701.25 621.93 L707.55 622.20 L713.86 620.88 L720.16 621.19 L726.46 619.36 L732.77 612.44 L739.07 612.91 L745.38 621.18 L751.68 622.69 L757.99 621.08 L764.29 618.10 L770.60 618.37 L776.90 620.60 L783.21 619.30 L789.51 619.83 L795.82 615.90 L802.12 606.20 L808.43 603.77 L814.74 603.30 L821.04 603.90 L827.34 608.84 L833.65 602.59 L839.95 604.12 L846.26 607.16 L852.56 606.84 L858.87 599.08 L865.17 599.22 L871.48 598.71 L877.78 596.14 L884.09 587.81 L890.39 600.50 L896.70 600.14 L903.00 600.14 L909.31 603.94 L915.62 603.01 L921.92 599.51 L928.22 600.05 L934.53 607.55 L940.83 609.32 L947.14 601.12 L953.44 599.73 L959.75 603.48 L966.05 601.09 L972.36 602.84 L978.66 604.24 L984.97 606.76 L991.27 605.92 L997.58 614.90 L1003.88 616.15 L1010.19 617.48 L1016.50 618.33 L1022.80 617.71 L1029.11 620.18 L1035.41 609.20 L1041.71 615.27 L1048.02 619.25 L1054.33 612.05 L1060.63 604.33 L1066.93 599.29 L1073.24 592.68 L1079.54 595.02 L1085.85 592.93 L1092.15 588.05 L1098.46 583.04 L1104.76 593.09 L1111.07 590.94 L1117.38 590.24 L1123.68 593.98 L1129.98 585.81 L1136.29 586.76 L1142.60 598.46 L1148.90 597.47 L1155.20 590.10 L1161.51 581.06 L1167.82 577.11 L1174.12 572.12 L1180.42 568.38 L1186.73 578.01 L1193.03 585.33 L1199.34 582.48 L1205.64 589.29 L1211.95 598.38 L1218.25 598.52 L1224.56 596.20 L1230.87 600.12 L1237.17 606.10 L1243.47 602.71 L1249.78 588.98 L1256.09 590.07 L1262.39 592.28 L1268.69 594.75 L1275.00 600.59 L1281.30 600.26 L1287.61 612.95 L1293.91 606.09 L1300.22 600.39 L1306.52 600.91" stroke="#7e57c2" stroke-width="1.4" stroke-linejoin="round" fill="none" clip-path="url(#rsi)"/><path d="M10.5 28.5H1525.5V671.5H10.5Z" stroke="#e6e9ef" stroke-width="1" fill="none"/><path d="M11 553.5H1525.5" stroke="#e0e3eb" stroke-width="1" fill="none"/><path d="M1460.5 28V671.5M11 642.5H1525.5" stroke="#6a6d78" stroke-width="1" fill="none"/><rect x="1464.5" y="32.5" width="56" height="26.5" rx="4" fill="#fff" stroke="#eceef2"/><text x="1473.6" y="50.8" fill="#2a2e39" stroke="#2a2e39" stroke-width="0.3" font-size="12.4" textLength="27.0" lengthAdjust="spacingAndGlyphs" font-family='"Liberation Sans", sans-serif'>USDT</text><text x="1469" y="74.7" fill="#4a4d57" stroke="#4a4d57" stroke-width="0.2" font-size="12" font-family='"Liberation Sans", sans-serif'>4,800.00</text><text x="1469" y="116.3" fill="#4a4d57" stroke="#4a4d57" stroke-width="0.2" font-size="12" font-family='"Liberation Sans", sans-serif'>4,400.00</text><text x="1469" y="157.9" fill="#4a4d57" stroke="#4a4d57" stroke-width="0.2" font-size="12" font-family='"Liberation Sans", sans-serif'>4,000.00</text><text x="1469" y="199.5" fill="#4a4d57" stroke="#4a4d57" stroke-width="0.2" font-size="12" font-family='"Liberation Sans", sans-serif'>3,600.00</text><text x="1469" y="241.1" fill="#4a4d57" stroke="#4a4d57" stroke-width="0.2" font-size="12" font-family='"Liberation Sans", sans-serif'>3,200.00</text><text x="1469" y="282.7" fill="#4a4d57" stroke="#4a4d57" stroke-width="0.2" font-size="12" font-family='"Liberation Sans", sans-serif'>2,800.00</text><text x="1469" y="324.3" fill="#4a4d57" stroke="#4a4d57" stroke-width="0.2" font-size="12" font-family='"Liberation Sans", sans-serif'>2,400.00</text><text x="1469" y="365.9" fill="#4a4d57" stroke="#4a4d57" stroke-width="0.2" font-size="12" font-family='"Liberation Sans", sans-serif'>2,000.00</text><text x="1469" y="407.5" fill="#4a4d57" stroke="#4a4d57" stroke-width="0.2" font-size="12" font-family='"Liberation Sans", sans-serif'>1,600.00</text><text x="1469" y="449.1" fill="#4a4d57" stroke="#4a4d57" stroke-width="0.2" font-size="12" font-family='"Liberation Sans", sans-serif'>1,200.00</text><text x="1469" y="490.7" fill="#4a4d57" stroke="#4a4d57" stroke-width="0.2" font-size="12" font-family='"Liberation Sans", sans-serif'>800.00</text><text x="1469" y="532.3" fill="#4a4d57" stroke="#4a4d57" stroke-width="0.2" font-size="12" font-family='"Liberation Sans", sans-serif'>400.00</text><text x="1469" y="583.7" fill="#4a4d57" stroke="#4a4d57" stroke-width="0.2" font-size="12" font-family='"Liberation Sans", sans-serif'>75.00</text><text x="1469" y="642.2" fill="#4a4d57" stroke="#4a4d57" stroke-width="0.2" font-size="12" font-family='"Liberation Sans", sans-serif'>25.00</text><path d="M1460 196.2H1516a4 4 0 0 1 4 4V222a4 4 0 0 1 -4 4H1460Z" fill="#ef5350"/><text x="1469.2" y="207.7" fill="#fff" font-size="12" textLength="45.2" lengthAdjust="spacingAndGlyphs" font-family='"Liberation Sans", sans-serif'>3,513.21</text><text x="1469.2" y="221.1" fill="#fff" font-size="12" textLength="34.6" lengthAdjust="spacingAndGlyphs" font-family='"Liberation Sans", sans-serif'>5d 12h</text><path d="M1407.8 196.2H1459V212.8H1407.8a4 4 0 0 1 -4 -4V200.2a4 4 0 0 1 4 -4Z" fill="#ef5350"/><text x="1407.4" y="208.5" fill="#fff" font-size="11.2" textLength="46.6" lengthAdjust="spacingAndGlyphs" font-family='"Liberation Sans", sans-serif'>ETHUSDT</text><g clip-path="url(#tax)"><text x="58.1" y="661" text-anchor="middle" fill="#52555d" stroke="#52555d" stroke-width="0.25" font-size="11" font-weight="normal" textLength="18.6" lengthAdjust="spacingAndGlyphs" font-family='"Liberation Sans", sans-serif'>Oct</text><text x="140.1" y="661" text-anchor="middle" fill="#3a3d46" stroke="#3a3d46" stroke-width="0.1" font-size="11" font-weight="bold" textLength="25.0" lengthAdjust="spacingAndGlyphs" font-family='"Liberation Sans", sans-serif'>2021</text><text x="222.1" y="661" text-anchor="middle" fill="#52555d" stroke="#52555d" stroke-width="0.25" font-size="11" font-weight="normal" textLength="17.3" lengthAdjust="spacingAndGlyphs" font-family='"Liberation Sans", sans-serif'>Apr</text><text x="304.0" y="661" text-anchor="middle" fill="#52555d" stroke="#52555d" stroke-width="0.25" font-size="11" font-weight="normal" textLength="14.5" lengthAdjust="spacingAndGlyphs" font-family='"Liberation Sans", sans-serif'>Jul</text><text x="386.0" y="661" text-anchor="middle" fill="#52555d" stroke="#52555d" stroke-width="0.25" font-size="11" font-weight="normal" textLength="18.6" lengthAdjust="spacingAndGlyphs" font-family='"Liberation Sans", sans-serif'>Oct</text><text x="468.0" y="661" text-anchor="middle" fill="#3a3d46" stroke="#3a3d46" stroke-width="0.1" font-size="11" font-weight="bold" textLength="25.0" lengthAdjust="spacingAndGlyphs" font-family='"Liberation Sans", sans-serif'>2022</text><text x="549.9" y="661" text-anchor="middle" fill="#52555d" stroke="#52555d" stroke-width="0.25" font-size="11" font-weight="normal" textLength="17.3" lengthAdjust="spacingAndGlyphs" font-family='"Liberation Sans", sans-serif'>Apr</text><text x="631.9" y="661" text-anchor="middle" fill="#52555d" stroke="#52555d" stroke-width="0.25" font-size="11" font-weight="normal" textLength="14.5" lengthAdjust="spacingAndGlyphs" font-family='"Liberation Sans", sans-serif'>Jul</text><text x="713.9" y="661" text-anchor="middle" fill="#52555d" stroke="#52555d" stroke-width="0.25" font-size="11" font-weight="normal" textLength="18.6" lengthAdjust="spacingAndGlyphs" font-family='"Liberation Sans", sans-serif'>Oct</text><text x="795.8" y="661" text-anchor="middle" fill="#3a3d46" stroke="#3a3d46" stroke-width="0.1" font-size="11" font-weight="bold" textLength="25.0" lengthAdjust="spacingAndGlyphs" font-family='"Liberation Sans", sans-serif'>2023</text><text x="877.8" y="661" text-anchor="middle" fill="#52555d" stroke="#52555d" stroke-width="0.25" font-size="11" font-weight="normal" textLength="17.3" lengthAdjust="spacingAndGlyphs" font-family='"Liberation Sans", sans-serif'>Apr</text><text x="959.8" y="661" text-anchor="middle" fill="#52555d" stroke="#52555d" stroke-width="0.25" font-size="11" font-weight="normal" textLength="14.5" lengthAdjust="spacingAndGlyphs" font-family='"Liberation Sans", sans-serif'>Jul</text><text x="1041.7" y="661" text-anchor="middle" fill="#52555d" stroke="#52555d" stroke-width="0.25" font-size="11" font-weight="normal" textLength="18.6" lengthAdjust="spacingAndGlyphs" font-family='"Liberation Sans", sans-serif'>Oct</text><text x="1123.7" y="661" text-anchor="middle" fill="#3a3d46" stroke="#3a3d46" stroke-width="0.1" font-size="11" font-weight="bold" textLength="25.0" lengthAdjust="spacingAndGlyphs" font-family='"Liberation Sans", sans-serif'>2024</text><text x="1205.6" y="661" text-anchor="middle" fill="#52555d" stroke="#52555d" stroke-width="0.25" font-size="11" font-weight="normal" textLength="17.3" lengthAdjust="spacingAndGlyphs" font-family='"Liberation Sans", sans-serif'>Apr</text><text x="1287.6" y="661" text-anchor="middle" fill="#52555d" stroke="#52555d" stroke-width="0.25" font-size="11" font-weight="normal" textLength="14.5" lengthAdjust="spacingAndGlyphs" font-family='"Liberation Sans", sans-serif'>Jul</text><text x="1375.9" y="661" text-anchor="middle" fill="#52555d" stroke="#52555d" stroke-width="0.25" font-size="11" font-weight="normal" textLength="18.6" lengthAdjust="spacingAndGlyphs" font-family='"Liberation Sans", sans-serif'>Oct</text><text x="1457.8" y="661" text-anchor="middle" fill="#3a3d46" stroke="#3a3d46" stroke-width="0.1" font-size="11" font-weight="bold" textLength="25.0" lengthAdjust="spacingAndGlyphs" font-family='"Liberation Sans", sans-serif'>2025</text></g><text x="10.4" y="20.8" fill="#1e222d" stroke="#1e222d" stroke-width="0.3" font-size="13" textLength="410.6" lengthAdjust="spacingAndGlyphs" font-family='"Liberation Sans", sans-serif'>Jake_Simmons published on TradingView.com, Jul 23, 2024 08:02 UTC-4</text><text x="18.8" y="49.0" fill="#5d6068" stroke="#5d6068" stroke-width="0.3" font-size="12.4" textLength="206.8" lengthAdjust="spacingAndGlyphs" font-family='"Liberation Sans", sans-serif'>Ethereum / TetherUS, 1W, BINANCE</text><text x="233.3" y="49.0" fill="#5d6068" stroke="#5d6068" stroke-width="0.3" font-size="12.4" font-family='"Liberation Sans", sans-serif'>O</text><text x="243.1" y="49.0" fill="#f05454" stroke="#f05454" stroke-width="0.3" font-size="12.4" textLength="47.2" lengthAdjust="spacingAndGlyphs" font-family='"Liberation Sans", sans-serif'>3,535.93</text><text x="298.1" y="49.0" fill="#5d6068" stroke="#5d6068" stroke-width="0.3" font-size="12.4" font-family='"Liberation Sans", sans-serif'>H</text><text x="306.6" y="49.0" fill="#f05454" stroke="#f05454" stroke-width="0.3" font-size="12.4" textLength="47.2" lengthAdjust="spacingAndGlyphs" font-family='"Liberation Sans", sans-serif'>3,562.82</text><text x="361.8" y="49.0" fill="#5d6068" stroke="#5d6068" stroke-width="0.3" font-size="12.4" font-family='"Liberation Sans", sans-serif'>L</text><text x="368.0" y="49.0" fill="#f05454" stroke="#f05454" stroke-width="0.3" font-size="12.4" textLength="47.4" lengthAdjust="spacingAndGlyphs" font-family='"Liberation Sans", sans-serif'>3,422.34</text><text x="422.9" y="49.0" fill="#5d6068" stroke="#5d6068" stroke-width="0.3" font-size="12.4" font-family='"Liberation Sans", sans-serif'>C</text><text x="430.7" y="49.0" fill="#f05454" stroke="#f05454" stroke-width="0.3" font-size="12.4" textLength="46.2" lengthAdjust="spacingAndGlyphs" font-family='"Liberation Sans", sans-serif'>3,513.21</text><text x="485.8" y="49.0" fill="#f05454" stroke="#f05454" stroke-width="0.3" font-size="12.4" textLength="86.4" lengthAdjust="spacingAndGlyphs" font-family='"Liberation Sans", sans-serif'>−22.71 (−0.64%)</text><text x="18.6" y="66.7" fill="#5d6068" stroke="#5d6068" stroke-width="0.3" font-size="12.4" textLength="52.3" lengthAdjust="spacingAndGlyphs" font-family='"Liberation Sans", sans-serif'>Vol · ETH</text><text x="78.8" y="66.7" fill="#f05454" stroke="#f05454" stroke-width="0.3" font-size="12.4" textLength="53.2" lengthAdjust="spacingAndGlyphs" font-family='"Liberation Sans", sans-serif'>409.852 K</text><text x="18.8" y="84.5" fill="#5d6068" stroke="#5d6068" stroke-width="0.3" font-size="12.4" textLength="112.0" lengthAdjust="spacingAndGlyphs" font-family='"Liberation Sans", sans-serif'>EMA 20/50/100/200</text><text x="138.6" y="84.5" fill="#ff0000" stroke="#ff0000" stroke-width="0.3" font-size="12.4" textLength="47.2" lengthAdjust="spacingAndGlyphs" font-family='"Liberation Sans", sans-serif'>3,288.06</text><text x="193.0" y="84.5" fill="#ff8c00" stroke="#ff8c00" stroke-width="0.3" font-size="12.4" textLength="47.4" lengthAdjust="spacingAndGlyphs" font-family='"Liberation Sans", sans-serif'>2,851.32</text><text x="248.3" y="84.5" fill="#00e5ff" stroke="#00e5ff" stroke-width="0.3" font-size="12.4" textLength="47.4" lengthAdjust="spacingAndGlyphs" font-family='"Liberation Sans", sans-serif'>2,480.04</text><text x="303.0" y="84.5" fill="#1f1fff" stroke="#1f1fff" stroke-width="0.3" font-size="12.4" textLength="46.6" lengthAdjust="spacingAndGlyphs" font-family='"Liberation Sans", sans-serif'>2,045.21</text><text x="19.0" y="574.6" fill="#5d6068" stroke="#5d6068" stroke-width="0.3" font-size="12.4" textLength="150.8" lengthAdjust="spacingAndGlyphs" font-family='"Liberation Sans", sans-serif'>RSI (14, close, SMA, 14, 2)</text><text x="178.4" y="574.6" fill="#7e57c2" stroke="#7e57c2" stroke-width="0.3" font-size="12.4" textLength="29.4" lengthAdjust="spacingAndGlyphs" font-family='"Liberation Sans", sans-serif'>56.63</text><text x="216.0" y="574.6" fill="#fbe04a" stroke="#fbe04a" stroke-width="0.3" font-size="12.4" textLength="29.4" lengthAdjust="spacingAndGlyphs" font-family='"Liberation Sans", sans-serif'>57.82</text><circle cx="260.2" cy="570.2" r="3.45" stroke="#62656d" stroke-width="1.05" fill="none"/><path d="M255.8 574.5L264.6 565.7" stroke="#62656d" stroke-width="1.05"/><circle cx="280.7" cy="570.2" r="3.45" stroke="#62656d" stroke-width="1.05" fill="none"/><path d="M276.3 574.5L285.1 565.7" stroke="#62656d" stroke-width="1.05"/><circle cx="301.5" cy="570.2" r="3.45" stroke="#62656d" stroke-width="1.05" fill="none"/><path d="M297.1 574.5L305.9 565.7" stroke="#62656d" stroke-width="1.05"/><circle cx="322.0" cy="570.2" r="3.45" stroke="#62656d" stroke-width="1.05" fill="none"/><path d="M317.6 574.5L326.4 565.7" stroke="#62656d" stroke-width="1.05"/><circle cx="343.0" cy="570.2" r="3.45" stroke="#62656d" stroke-width="1.05" fill="none"/><path d="M338.6 574.5L347.4 565.7" stroke="#62656d" stroke-width="1.05"/><circle cx="363.5" cy="570.2" r="3.45" stroke="#62656d" stroke-width="1.05" fill="none"/><path d="M359.1 574.5L367.9 565.7" stroke="#62656d" stroke-width="1.05"/><path d="M11 684.6H18.8V694.8H14.7V688.5H11Z" fill="#131722"/><circle cx="22.1" cy="686.4" r="1.75" fill="#131722"/><path d="M25.2 684.6H30.8L27.1 694.8H22.6Z" fill="#131722"/><text x="34.4" y="695.6" fill="#131722" stroke="#131722" stroke-width="0.3" font-size="13.6" textLength="75.8" lengthAdjust="spacingAndGlyphs" font-family='"Liberation Sans", sans-serif'>TradingView</text></svg>
</body></html>
